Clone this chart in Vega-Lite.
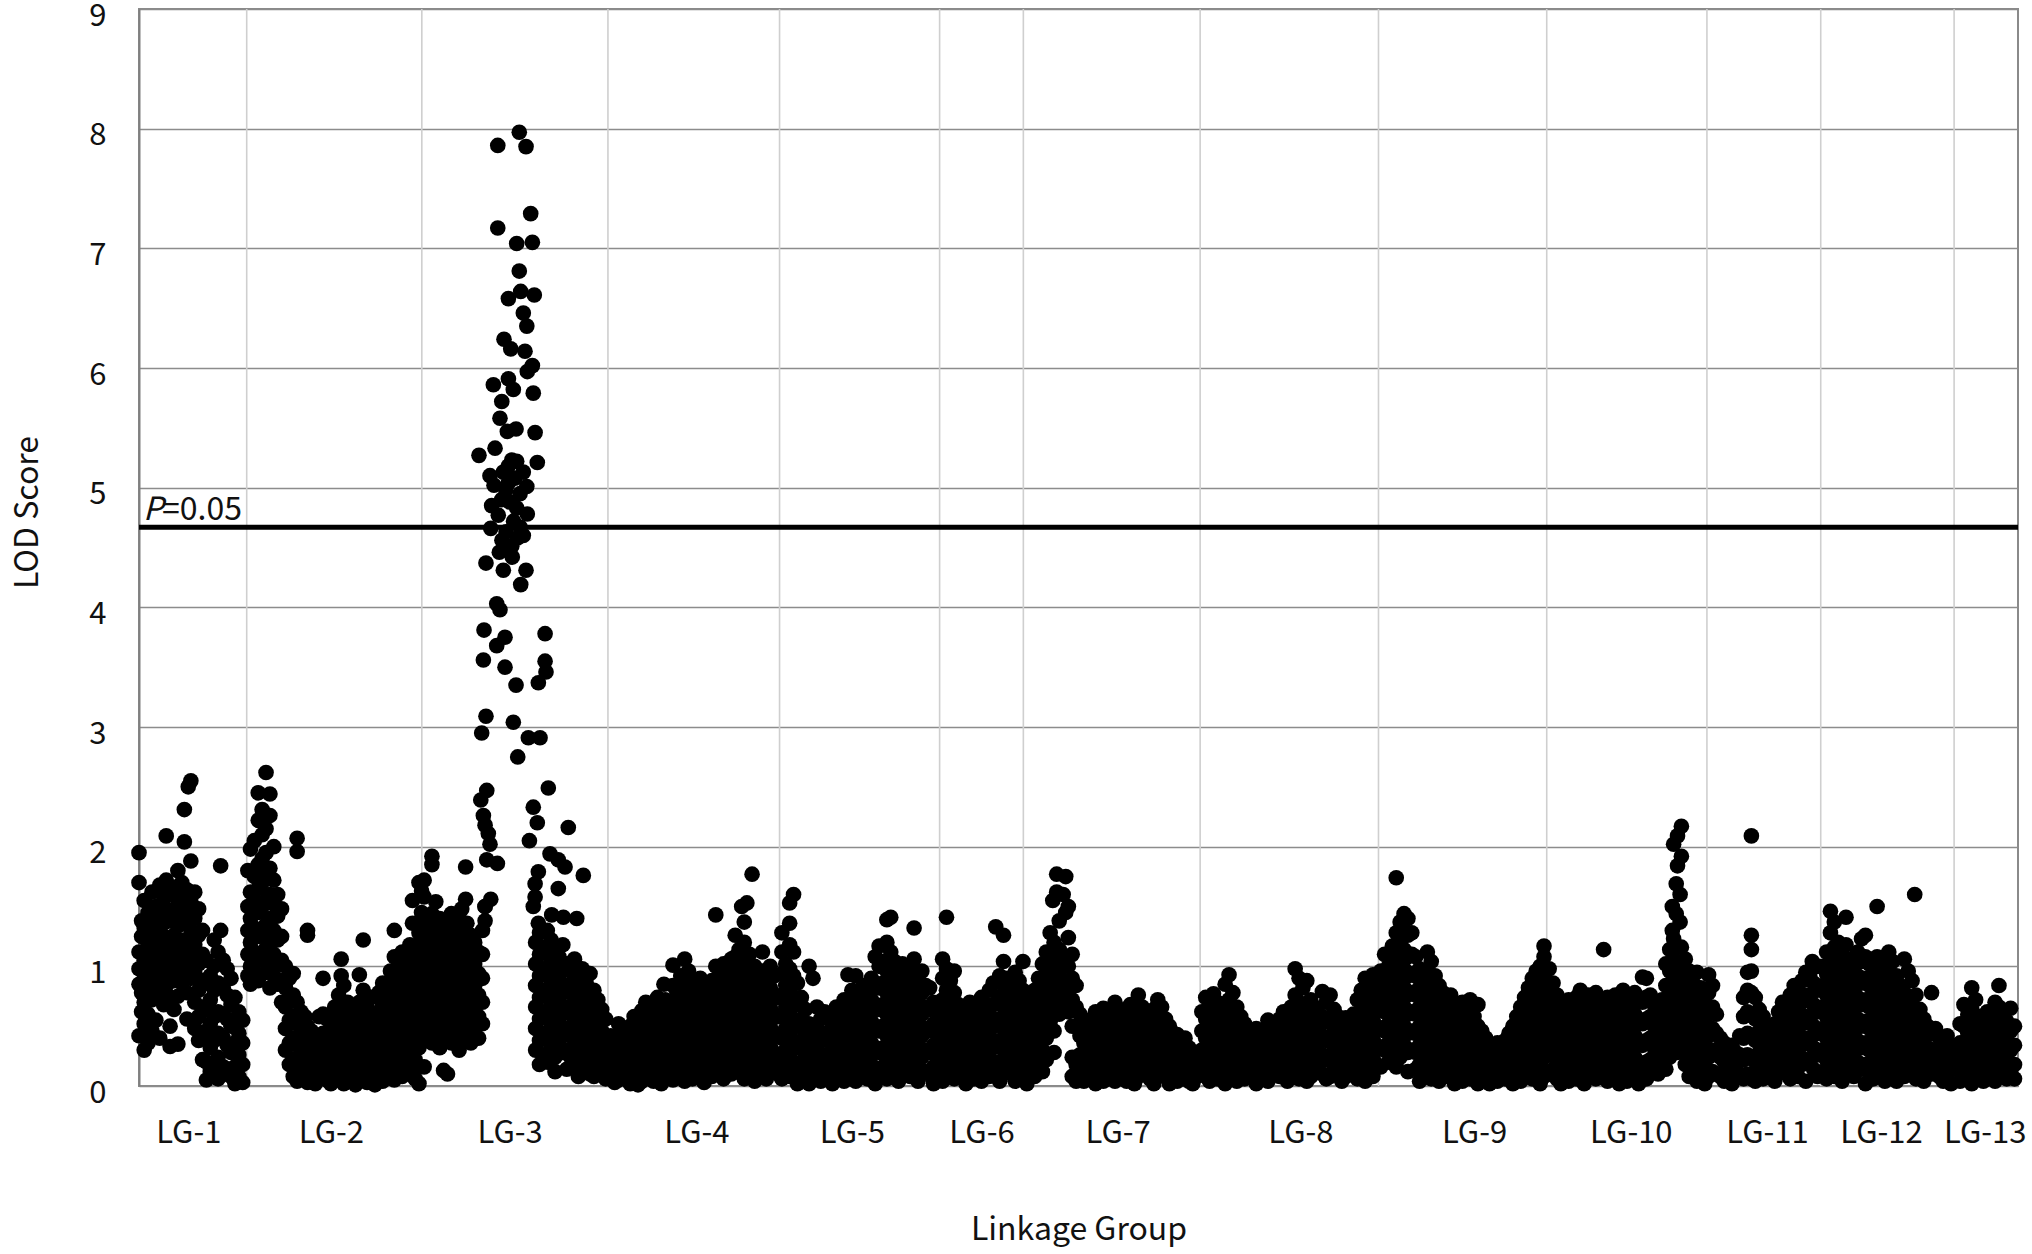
{
"$schema":"https://vega.github.io/schema/vega-lite/v6.json",
"width":1879,"height":1077,
"autosize":{"type":"none"},
"padding":{"left":139,"top":9,"right":14,"bottom":168},
"background":"white",
"config":{"view":{"stroke":"#8a8a8a","strokeWidth":2},"font":"Noto Sans CJK JP"},
"datasets":{
"groups":[{"LG":"LG-1","start":0},{"LG":"LG-2","start":83.1},{"LG":"LG-3","start":218.2},{"LG":"LG-4","start":361.8},{"LG":"LG-5","start":494.2},{"LG":"LG-6","start":617.7},{"LG":"LG-7","start":682.3},{"LG":"LG-8","start":818.7},{"LG":"LG-9","start":956.3},{"LG":"LG-10","start":1086.1},{"LG":"LG-11","start":1209.7},{"LG":"LG-12","start":1297.5},{"LG":"LG-13","start":1400.4}],
"threshold":[{"cM":0,"LOD":4.67,"p":"P","rest":"=0.05"}],
"markers":[
{"cM":0,"LOD":1.95},{"cM":0,"LOD":1.70},{"cM":0,"LOD":1.12},{"cM":0,"LOD":0.98},{"cM":0,"LOD":0.85},{"cM":0,"LOD":0.42},
{"cM":2,"LOD":1.38},{"cM":2,"LOD":1.25},{"cM":2,"LOD":0.78},{"cM":2,"LOD":0.62},
{"cM":4,"LOD":1.55},{"cM":4,"LOD":1.32},{"cM":4,"LOD":1.05},{"cM":4,"LOD":0.90},{"cM":4,"LOD":0.70},{"cM":4,"LOD":0.52},{"cM":4,"LOD":0.30},
{"cM":7,"LOD":1.45},{"cM":7,"LOD":1.18},{"cM":7,"LOD":0.95},{"cM":7,"LOD":0.80},{"cM":7,"LOD":0.60},{"cM":7,"LOD":0.36},
{"cM":10,"LOD":1.62},{"cM":10,"LOD":1.40},{"cM":10,"LOD":1.28},{"cM":10,"LOD":1.08},{"cM":10,"LOD":0.88},{"cM":10,"LOD":0.72},{"cM":10,"LOD":0.46},
{"cM":13,"LOD":1.50},{"cM":13,"LOD":1.22},{"cM":13,"LOD":1.00},{"cM":13,"LOD":0.82},{"cM":13,"LOD":0.55},
{"cM":16,"LOD":1.68},{"cM":16,"LOD":1.45},{"cM":16,"LOD":1.30},{"cM":16,"LOD":1.15},{"cM":16,"LOD":0.95},{"cM":16,"LOD":0.76},{"cM":16,"LOD":0.40},
{"cM":19,"LOD":1.58},{"cM":19,"LOD":1.36},{"cM":19,"LOD":1.10},{"cM":19,"LOD":0.92},{"cM":19,"LOD":0.68},
{"cM":21,"LOD":2.09},{"cM":21,"LOD":1.72},{"cM":21,"LOD":1.48},{"cM":21,"LOD":1.24},{"cM":21,"LOD":1.02},{"cM":21,"LOD":0.84},
{"cM":24,"LOD":1.60},{"cM":24,"LOD":1.38},{"cM":24,"LOD":1.18},{"cM":24,"LOD":0.98},{"cM":24,"LOD":0.74},{"cM":24,"LOD":0.50},{"cM":24,"LOD":0.33},
{"cM":27,"LOD":1.66},{"cM":27,"LOD":1.42},{"cM":27,"LOD":1.26},{"cM":27,"LOD":1.06},{"cM":27,"LOD":0.88},{"cM":27,"LOD":0.64},
{"cM":30,"LOD":1.80},{"cM":30,"LOD":1.52},{"cM":30,"LOD":1.34},{"cM":30,"LOD":1.12},{"cM":30,"LOD":0.94},{"cM":30,"LOD":0.75},{"cM":30,"LOD":0.35},
{"cM":33,"LOD":1.70},{"cM":33,"LOD":1.46},{"cM":33,"LOD":1.22},{"cM":33,"LOD":1.04},{"cM":33,"LOD":0.86},
{"cM":35,"LOD":2.31},{"cM":35,"LOD":2.04},{"cM":35,"LOD":1.58},{"cM":35,"LOD":1.36},{"cM":35,"LOD":1.16},{"cM":35,"LOD":0.96},
{"cM":37,"LOD":1.64},{"cM":37,"LOD":1.44},{"cM":37,"LOD":1.20},{"cM":37,"LOD":0.98},{"cM":37,"LOD":0.78},{"cM":37,"LOD":0.56},
{"cM":38,"LOD":2.50},
{"cM":40,"LOD":2.55},{"cM":40,"LOD":1.88},{"cM":40,"LOD":1.54},{"cM":40,"LOD":1.30},{"cM":40,"LOD":1.08},{"cM":40,"LOD":0.90},
{"cM":43,"LOD":1.62},{"cM":43,"LOD":1.40},{"cM":43,"LOD":1.18},{"cM":43,"LOD":0.94},{"cM":43,"LOD":0.70},{"cM":43,"LOD":0.48},
{"cM":46,"LOD":1.48},{"cM":46,"LOD":1.26},{"cM":46,"LOD":1.02},{"cM":46,"LOD":0.80},{"cM":46,"LOD":0.58},{"cM":46,"LOD":0.38},
{"cM":49,"LOD":1.30},{"cM":49,"LOD":1.10},{"cM":49,"LOD":0.88},{"cM":49,"LOD":0.66},{"cM":49,"LOD":0.45},{"cM":49,"LOD":0.22},
{"cM":52,"LOD":1.05},{"cM":52,"LOD":0.86},{"cM":52,"LOD":0.64},{"cM":52,"LOD":0.42},{"cM":52,"LOD":0.20},{"cM":52,"LOD":0.05},
{"cM":55,"LOD":0.92},{"cM":55,"LOD":0.72},{"cM":55,"LOD":0.52},{"cM":55,"LOD":0.32},{"cM":55,"LOD":0.12},
{"cM":58,"LOD":1.22},{"cM":58,"LOD":1.00},{"cM":58,"LOD":0.80},{"cM":58,"LOD":0.58},{"cM":58,"LOD":0.38},{"cM":58,"LOD":0.18},
{"cM":61,"LOD":1.12},{"cM":61,"LOD":0.86},{"cM":61,"LOD":0.62},{"cM":61,"LOD":0.44},{"cM":61,"LOD":0.24},{"cM":61,"LOD":0.06},
{"cM":63,"LOD":1.84},{"cM":63,"LOD":1.30},
{"cM":65,"LOD":1.05},{"cM":65,"LOD":0.82},{"cM":65,"LOD":0.60},{"cM":65,"LOD":0.40},{"cM":65,"LOD":0.16},
{"cM":68,"LOD":0.98},{"cM":68,"LOD":0.76},{"cM":68,"LOD":0.56},{"cM":68,"LOD":0.34},{"cM":68,"LOD":0.10},
{"cM":71,"LOD":0.90},{"cM":71,"LOD":0.68},{"cM":71,"LOD":0.50},{"cM":71,"LOD":0.28},{"cM":71,"LOD":0.08},
{"cM":74,"LOD":0.74},{"cM":74,"LOD":0.54},{"cM":74,"LOD":0.36},{"cM":74,"LOD":0.16},{"cM":74,"LOD":0.02},
{"cM":77,"LOD":0.62},{"cM":77,"LOD":0.44},{"cM":77,"LOD":0.26},{"cM":77,"LOD":0.08},
{"cM":80,"LOD":0.55},{"cM":80,"LOD":0.36},{"cM":80,"LOD":0.18},{"cM":80,"LOD":0.03},
{"cM":84,"LOD":1.80},{"cM":84,"LOD":1.50},{"cM":84,"LOD":1.30},{"cM":84,"LOD":1.10},{"cM":84,"LOD":0.92},
{"cM":86,"LOD":1.98},{"cM":86,"LOD":1.62},{"cM":86,"LOD":1.40},{"cM":86,"LOD":1.20},{"cM":86,"LOD":1.00},{"cM":86,"LOD":0.85},
{"cM":89,"LOD":2.05},{"cM":89,"LOD":1.75},{"cM":89,"LOD":1.55},{"cM":89,"LOD":1.32},{"cM":89,"LOD":1.12},{"cM":89,"LOD":0.95},
{"cM":92,"LOD":2.45},{"cM":92,"LOD":2.22},{"cM":92,"LOD":1.85},{"cM":92,"LOD":1.65},{"cM":92,"LOD":1.45},{"cM":92,"LOD":1.25},{"cM":92,"LOD":1.05},{"cM":92,"LOD":0.88},
{"cM":95,"LOD":2.31},{"cM":95,"LOD":2.10},{"cM":95,"LOD":1.90},{"cM":95,"LOD":1.70},{"cM":95,"LOD":1.50},{"cM":95,"LOD":1.28},{"cM":95,"LOD":1.08},
{"cM":98,"LOD":2.62},{"cM":98,"LOD":2.15},{"cM":98,"LOD":1.95},{"cM":98,"LOD":1.76},{"cM":98,"LOD":1.55},{"cM":98,"LOD":1.35},{"cM":98,"LOD":1.15},{"cM":98,"LOD":0.95},
{"cM":101,"LOD":2.44},{"cM":101,"LOD":2.26},{"cM":101,"LOD":1.82},{"cM":101,"LOD":1.60},{"cM":101,"LOD":1.40},{"cM":101,"LOD":1.20},{"cM":101,"LOD":1.00},{"cM":101,"LOD":0.82},
{"cM":104,"LOD":2.00},{"cM":104,"LOD":1.72},{"cM":104,"LOD":1.52},{"cM":104,"LOD":1.30},{"cM":104,"LOD":1.10},{"cM":104,"LOD":0.92},
{"cM":107,"LOD":1.60},{"cM":107,"LOD":1.42},{"cM":107,"LOD":1.22},{"cM":107,"LOD":1.02},{"cM":107,"LOD":0.85},
{"cM":110,"LOD":1.48},{"cM":110,"LOD":1.25},{"cM":110,"LOD":1.05},{"cM":110,"LOD":0.88},{"cM":110,"LOD":0.70},
{"cM":113,"LOD":1.00},{"cM":113,"LOD":0.82},{"cM":113,"LOD":0.66},{"cM":113,"LOD":0.48},{"cM":113,"LOD":0.30},
{"cM":116,"LOD":0.90},{"cM":116,"LOD":0.72},{"cM":116,"LOD":0.55},{"cM":116,"LOD":0.36},{"cM":116,"LOD":0.18},
{"cM":119,"LOD":0.94},{"cM":119,"LOD":0.76},{"cM":119,"LOD":0.58},{"cM":119,"LOD":0.40},{"cM":119,"LOD":0.22},{"cM":119,"LOD":0.08},
{"cM":122,"LOD":2.07},{"cM":122,"LOD":1.96},{"cM":122,"LOD":0.70},{"cM":122,"LOD":0.52},{"cM":122,"LOD":0.34},{"cM":122,"LOD":0.16},{"cM":122,"LOD":0.04},
{"cM":125,"LOD":0.62},{"cM":125,"LOD":0.46},{"cM":125,"LOD":0.30},{"cM":125,"LOD":0.14},
{"cM":128,"LOD":0.58},{"cM":128,"LOD":0.40},{"cM":128,"LOD":0.24},{"cM":128,"LOD":0.08},
{"cM":130,"LOD":1.30},{"cM":130,"LOD":1.26},{"cM":130,"LOD":0.50},{"cM":130,"LOD":0.34},{"cM":130,"LOD":0.18},{"cM":130,"LOD":0.03},
{"cM":133,"LOD":0.46},{"cM":133,"LOD":0.30},{"cM":133,"LOD":0.14},
{"cM":136,"LOD":0.40},{"cM":136,"LOD":0.26},{"cM":136,"LOD":0.10},{"cM":136,"LOD":0.02},
{"cM":139,"LOD":0.58},{"cM":139,"LOD":0.36},{"cM":139,"LOD":0.20},{"cM":139,"LOD":0.06},
{"cM":142,"LOD":0.90},{"cM":142,"LOD":0.60},{"cM":142,"LOD":0.44},{"cM":142,"LOD":0.28},{"cM":142,"LOD":0.12},
{"cM":145,"LOD":0.56},{"cM":145,"LOD":0.38},{"cM":145,"LOD":0.22},{"cM":145,"LOD":0.05},
{"cM":148,"LOD":0.48},{"cM":148,"LOD":0.32},{"cM":148,"LOD":0.16},{"cM":148,"LOD":0.02},
{"cM":151,"LOD":0.66},{"cM":151,"LOD":0.50},{"cM":151,"LOD":0.34},{"cM":151,"LOD":0.18},{"cM":151,"LOD":0.06},
{"cM":154,"LOD":0.76},{"cM":154,"LOD":0.58},{"cM":154,"LOD":0.40},{"cM":154,"LOD":0.24},{"cM":154,"LOD":0.08},
{"cM":156,"LOD":1.06},{"cM":156,"LOD":0.92},
{"cM":158,"LOD":0.84},{"cM":158,"LOD":0.66},{"cM":158,"LOD":0.48},{"cM":158,"LOD":0.30},{"cM":158,"LOD":0.14},{"cM":158,"LOD":0.02},
{"cM":161,"LOD":0.70},{"cM":161,"LOD":0.52},{"cM":161,"LOD":0.36},{"cM":161,"LOD":0.20},{"cM":161,"LOD":0.06},
{"cM":164,"LOD":0.62},{"cM":164,"LOD":0.44},{"cM":164,"LOD":0.28},{"cM":164,"LOD":0.12},
{"cM":167,"LOD":0.55},{"cM":167,"LOD":0.40},{"cM":167,"LOD":0.24},{"cM":167,"LOD":0.08},{"cM":167,"LOD":0.01},
{"cM":170,"LOD":0.93},{"cM":170,"LOD":0.70},{"cM":170,"LOD":0.52},{"cM":170,"LOD":0.34},{"cM":170,"LOD":0.18},{"cM":170,"LOD":0.04},
{"cM":173,"LOD":1.22},{"cM":173,"LOD":0.80},{"cM":173,"LOD":0.60},{"cM":173,"LOD":0.42},{"cM":173,"LOD":0.26},{"cM":173,"LOD":0.10},
{"cM":176,"LOD":0.66},{"cM":176,"LOD":0.48},{"cM":176,"LOD":0.32},{"cM":176,"LOD":0.16},{"cM":176,"LOD":0.03},
{"cM":179,"LOD":0.74},{"cM":179,"LOD":0.56},{"cM":179,"LOD":0.38},{"cM":179,"LOD":0.22},{"cM":179,"LOD":0.06},
{"cM":182,"LOD":0.60},{"cM":182,"LOD":0.44},{"cM":182,"LOD":0.28},{"cM":182,"LOD":0.12},{"cM":182,"LOD":0.01},
{"cM":185,"LOD":0.78},{"cM":185,"LOD":0.62},{"cM":185,"LOD":0.46},{"cM":185,"LOD":0.30},{"cM":185,"LOD":0.14},
{"cM":188,"LOD":0.86},{"cM":188,"LOD":0.68},{"cM":188,"LOD":0.50},{"cM":188,"LOD":0.34},{"cM":188,"LOD":0.18},{"cM":188,"LOD":0.04},
{"cM":191,"LOD":0.72},{"cM":191,"LOD":0.54},{"cM":191,"LOD":0.38},{"cM":191,"LOD":0.22},{"cM":191,"LOD":0.08},
{"cM":194,"LOD":0.96},{"cM":194,"LOD":0.80},{"cM":194,"LOD":0.62},{"cM":194,"LOD":0.44},{"cM":194,"LOD":0.28},{"cM":194,"LOD":0.12},
{"cM":197,"LOD":1.30},{"cM":197,"LOD":1.08},{"cM":197,"LOD":0.88},{"cM":197,"LOD":0.70},{"cM":197,"LOD":0.52},{"cM":197,"LOD":0.36},{"cM":197,"LOD":0.20},{"cM":197,"LOD":0.05},
{"cM":200,"LOD":1.00},{"cM":200,"LOD":0.82},{"cM":200,"LOD":0.64},{"cM":200,"LOD":0.46},{"cM":200,"LOD":0.30},{"cM":200,"LOD":0.14},
{"cM":203,"LOD":1.12},{"cM":203,"LOD":0.94},{"cM":203,"LOD":0.76},{"cM":203,"LOD":0.58},{"cM":203,"LOD":0.40},{"cM":203,"LOD":0.24},{"cM":203,"LOD":0.08},
{"cM":206,"LOD":1.06},{"cM":206,"LOD":0.88},{"cM":206,"LOD":0.70},{"cM":206,"LOD":0.52},{"cM":206,"LOD":0.36},{"cM":206,"LOD":0.18},
{"cM":209,"LOD":1.18},{"cM":209,"LOD":1.00},{"cM":209,"LOD":0.82},{"cM":209,"LOD":0.64},{"cM":209,"LOD":0.46},{"cM":209,"LOD":0.30},{"cM":209,"LOD":0.12},
{"cM":211,"LOD":1.55},{"cM":211,"LOD":1.36},
{"cM":213,"LOD":1.10},{"cM":213,"LOD":0.92},{"cM":213,"LOD":0.74},{"cM":213,"LOD":0.56},{"cM":213,"LOD":0.40},{"cM":213,"LOD":0.22},{"cM":213,"LOD":0.06},
{"cM":216,"LOD":1.70},{"cM":216,"LOD":1.28},{"cM":216,"LOD":1.04},{"cM":216,"LOD":0.86},{"cM":216,"LOD":0.68},{"cM":216,"LOD":0.50},{"cM":216,"LOD":0.32},{"cM":216,"LOD":0.16},{"cM":216,"LOD":0.02},
{"cM":218,"LOD":1.63},{"cM":218,"LOD":1.45},{"cM":218,"LOD":1.20},{"cM":218,"LOD":0.96},{"cM":218,"LOD":0.78},{"cM":218,"LOD":0.60},
{"cM":220,"LOD":1.72},{"cM":220,"LOD":1.58},{"cM":220,"LOD":1.38},{"cM":220,"LOD":1.20},{"cM":220,"LOD":1.02},{"cM":220,"LOD":0.84},{"cM":220,"LOD":0.66},{"cM":220,"LOD":0.48},{"cM":220,"LOD":0.16},
{"cM":223,"LOD":1.30},{"cM":223,"LOD":1.12},{"cM":223,"LOD":0.94},{"cM":223,"LOD":0.76},{"cM":223,"LOD":0.58},{"cM":223,"LOD":0.40},
{"cM":226,"LOD":1.92},{"cM":226,"LOD":1.85},{"cM":226,"LOD":1.44},{"cM":226,"LOD":1.26},{"cM":226,"LOD":1.08},{"cM":226,"LOD":0.90},{"cM":226,"LOD":0.72},{"cM":226,"LOD":0.54},{"cM":226,"LOD":0.36},
{"cM":229,"LOD":1.54},{"cM":229,"LOD":1.34},{"cM":229,"LOD":1.16},{"cM":229,"LOD":0.98},{"cM":229,"LOD":0.80},{"cM":229,"LOD":0.62},{"cM":229,"LOD":0.44},
{"cM":232,"LOD":1.40},{"cM":232,"LOD":1.22},{"cM":232,"LOD":1.04},{"cM":232,"LOD":0.86},{"cM":232,"LOD":0.68},{"cM":232,"LOD":0.50},{"cM":232,"LOD":0.32},
{"cM":235,"LOD":1.28},{"cM":235,"LOD":1.10},{"cM":235,"LOD":0.92},{"cM":235,"LOD":0.74},{"cM":235,"LOD":0.56},{"cM":235,"LOD":0.38},{"cM":235,"LOD":0.13},
{"cM":238,"LOD":1.36},{"cM":238,"LOD":1.18},{"cM":238,"LOD":1.00},{"cM":238,"LOD":0.82},{"cM":238,"LOD":0.64},{"cM":238,"LOD":0.46},{"cM":238,"LOD":0.10},
{"cM":241,"LOD":1.44},{"cM":241,"LOD":1.26},{"cM":241,"LOD":1.08},{"cM":241,"LOD":0.90},{"cM":241,"LOD":0.72},{"cM":241,"LOD":0.54},{"cM":241,"LOD":0.36},
{"cM":244,"LOD":1.32},{"cM":244,"LOD":1.14},{"cM":244,"LOD":0.96},{"cM":244,"LOD":0.78},{"cM":244,"LOD":0.60},{"cM":244,"LOD":0.42},
{"cM":247,"LOD":1.40},{"cM":247,"LOD":1.22},{"cM":247,"LOD":1.04},{"cM":247,"LOD":0.86},{"cM":247,"LOD":0.68},{"cM":247,"LOD":0.50},{"cM":247,"LOD":0.30},
{"cM":249,"LOD":1.48},
{"cM":250,"LOD":1.30},{"cM":250,"LOD":1.12},{"cM":250,"LOD":0.94},{"cM":250,"LOD":0.76},{"cM":250,"LOD":0.58},{"cM":250,"LOD":0.40},
{"cM":252,"LOD":1.83},{"cM":252,"LOD":1.56},
{"cM":253,"LOD":1.36},{"cM":253,"LOD":1.18},{"cM":253,"LOD":1.00},{"cM":253,"LOD":0.82},{"cM":253,"LOD":0.64},{"cM":253,"LOD":0.46},
{"cM":256,"LOD":1.26},{"cM":256,"LOD":1.08},{"cM":256,"LOD":0.90},{"cM":256,"LOD":0.72},{"cM":256,"LOD":0.54},{"cM":256,"LOD":0.36},
{"cM":259,"LOD":1.20},{"cM":259,"LOD":1.02},{"cM":259,"LOD":0.84},{"cM":259,"LOD":0.66},{"cM":259,"LOD":0.48},
{"cM":262,"LOD":1.12},{"cM":262,"LOD":0.94},{"cM":262,"LOD":0.76},{"cM":262,"LOD":0.58},{"cM":262,"LOD":0.40},
{"cM":265,"LOD":1.30},{"cM":265,"LOD":1.10},{"cM":265,"LOD":0.90},{"cM":265,"LOD":0.70},{"cM":265,"LOD":0.52},
{"cM":267,"LOD":1.50},{"cM":267,"LOD":1.38},
{"cM":293.4,"LOD":7.97},{"cM":276.8,"LOD":7.86},{"cM":298.6,"LOD":7.85},{"cM":302.2,"LOD":7.29},{"cM":276.8,"LOD":7.17},{"cM":291.4,"LOD":7.04},{"cM":303.5,"LOD":7.05},{"cM":293.4,"LOD":6.81},{"cM":285,"LOD":6.58},{"cM":294.5,"LOD":6.64},{"cM":305,"LOD":6.61},{"cM":296.5,"LOD":6.46},{"cM":299.2,"LOD":6.35},{"cM":281.6,"LOD":6.24},{"cM":286.8,"LOD":6.16},{"cM":297.8,"LOD":6.14},{"cM":303.5,"LOD":6.02},{"cM":299.6,"LOD":5.97},{"cM":273.4,"LOD":5.86},{"cM":285,"LOD":5.91},{"cM":288.8,"LOD":5.82},{"cM":304.2,"LOD":5.79},{"cM":279.9,"LOD":5.72},{"cM":278.5,"LOD":5.58},{"cM":284.2,"LOD":5.47},{"cM":290.9,"LOD":5.49},{"cM":305.6,"LOD":5.46},{"cM":262.3,"LOD":5.27},{"cM":274.7,"LOD":5.33},{"cM":287.6,"LOD":5.23},{"cM":291.4,"LOD":5.22},{"cM":307.3,"LOD":5.21},{"cM":270.8,"LOD":5.10},{"cM":281.1,"LOD":5.13},{"cM":296.5,"LOD":5.13},{"cM":273.9,"LOD":5.02},{"cM":285,"LOD":5.04},{"cM":299.2,"LOD":5.01},{"cM":294,"LOD":4.95},{"cM":272.1,"LOD":4.85},{"cM":279.9,"LOD":4.90},{"cM":291.4,"LOD":4.83},{"cM":299.6,"LOD":4.78},{"cM":277.2,"LOD":4.77},{"cM":271.4,"LOD":4.66},{"cM":283.2,"LOD":4.63},{"cM":294,"LOD":4.67},{"cM":296.5,"LOD":4.60},{"cM":287.6,"LOD":4.51},{"cM":286,"LOD":4.88},{"cM":289,"LOD":4.72},{"cM":283,"LOD":4.98},{"cM":292,"LOD":4.58},{"cM":288,"LOD":4.42},{"cM":278,"LOD":4.46},{"cM":290,"LOD":5.08},{"cM":285,"LOD":5.18},{"cM":280,"LOD":4.56},
{"cM":267.7,"LOD":4.37},{"cM":281.1,"LOD":4.31},{"cM":298.6,"LOD":4.31},{"cM":294.5,"LOD":4.19},{"cM":276,"LOD":4.03},{"cM":278.5,"LOD":3.98},{"cM":266.2,"LOD":3.81},{"cM":282.4,"LOD":3.75},{"cM":313.3,"LOD":3.78},{"cM":276,"LOD":3.68},{"cM":265.7,"LOD":3.56},{"cM":282.4,"LOD":3.50},{"cM":313.3,"LOD":3.55},{"cM":314,"LOD":3.46},{"cM":308.1,"LOD":3.37},{"cM":290.9,"LOD":3.35},{"cM":267.7,"LOD":3.09},{"cM":264.4,"LOD":2.95},{"cM":288.8,"LOD":3.04},{"cM":300.4,"LOD":2.91},{"cM":309.4,"LOD":2.91},{"cM":292.2,"LOD":2.75},{"cM":315.8,"LOD":2.49},{"cM":268.3,"LOD":2.47},{"cM":263.7,"LOD":2.39},{"cM":304.2,"LOD":2.33},{"cM":265.7,"LOD":2.26},{"cM":307.3,"LOD":2.20},{"cM":331.2,"LOD":2.16},{"cM":267,"LOD":2.18},{"cM":269.5,"LOD":2.11},{"cM":301.2,"LOD":2.05},{"cM":270.8,"LOD":2.02},{"cM":317.1,"LOD":1.94},{"cM":268.3,"LOD":1.89},{"cM":276.5,"LOD":1.86},{"cM":323.5,"LOD":1.89},{"cM":328.7,"LOD":1.83},{"cM":342.8,"LOD":1.76},{"cM":308.1,"LOD":1.79},{"cM":305.6,"LOD":1.69},{"cM":323.5,"LOD":1.65},{"cM":305.6,"LOD":1.58},{"cM":304.2,"LOD":1.50},{"cM":308.1,"LOD":1.36},{"cM":318.4,"LOD":1.43},{"cM":327.4,"LOD":1.41},{"cM":337.7,"LOD":1.40},{"cM":271.4,"LOD":1.56},{"cM":267,"LOD":1.50},
{"cM":306,"LOD":1.20},{"cM":306,"LOD":1.02},{"cM":306,"LOD":0.84},{"cM":306,"LOD":0.66},{"cM":306,"LOD":0.48},{"cM":306,"LOD":0.30},
{"cM":309,"LOD":1.28},{"cM":309,"LOD":1.10},{"cM":309,"LOD":0.92},{"cM":309,"LOD":0.74},{"cM":309,"LOD":0.56},{"cM":309,"LOD":0.38},{"cM":309,"LOD":0.18},
{"cM":312,"LOD":1.16},{"cM":312,"LOD":0.98},{"cM":312,"LOD":0.80},{"cM":312,"LOD":0.62},{"cM":312,"LOD":0.44},{"cM":312,"LOD":0.26},
{"cM":315,"LOD":1.30},{"cM":315,"LOD":1.12},{"cM":315,"LOD":0.94},{"cM":315,"LOD":0.76},{"cM":315,"LOD":0.58},{"cM":315,"LOD":0.40},{"cM":315,"LOD":0.20},
{"cM":318,"LOD":1.22},{"cM":318,"LOD":1.04},{"cM":318,"LOD":0.86},{"cM":318,"LOD":0.68},{"cM":318,"LOD":0.50},{"cM":318,"LOD":0.32},
{"cM":321,"LOD":1.14},{"cM":321,"LOD":0.96},{"cM":321,"LOD":0.78},{"cM":321,"LOD":0.60},{"cM":321,"LOD":0.42},{"cM":321,"LOD":0.24},{"cM":321,"LOD":0.12},
{"cM":324,"LOD":1.08},{"cM":324,"LOD":0.90},{"cM":324,"LOD":0.72},{"cM":324,"LOD":0.54},{"cM":324,"LOD":0.36},
{"cM":327,"LOD":1.18},{"cM":327,"LOD":1.00},{"cM":327,"LOD":0.82},{"cM":327,"LOD":0.64},{"cM":327,"LOD":0.46},{"cM":327,"LOD":0.28},
{"cM":330,"LOD":1.02},{"cM":330,"LOD":0.84},{"cM":330,"LOD":0.66},{"cM":330,"LOD":0.48},{"cM":330,"LOD":0.30},{"cM":330,"LOD":0.14},
{"cM":333,"LOD":0.96},{"cM":333,"LOD":0.78},{"cM":333,"LOD":0.60},{"cM":333,"LOD":0.42},{"cM":333,"LOD":0.24},
{"cM":336,"LOD":1.06},{"cM":336,"LOD":0.88},{"cM":336,"LOD":0.70},{"cM":336,"LOD":0.52},{"cM":336,"LOD":0.34},{"cM":336,"LOD":0.16},
{"cM":339,"LOD":0.92},{"cM":339,"LOD":0.74},{"cM":339,"LOD":0.56},{"cM":339,"LOD":0.38},{"cM":339,"LOD":0.20},{"cM":339,"LOD":0.08},
{"cM":342,"LOD":0.98},{"cM":342,"LOD":0.80},{"cM":342,"LOD":0.62},{"cM":342,"LOD":0.44},{"cM":342,"LOD":0.26},
{"cM":345,"LOD":0.86},{"cM":345,"LOD":0.68},{"cM":345,"LOD":0.50},{"cM":345,"LOD":0.32},{"cM":345,"LOD":0.14},
{"cM":348,"LOD":0.94},{"cM":348,"LOD":0.76},{"cM":348,"LOD":0.58},{"cM":348,"LOD":0.40},{"cM":348,"LOD":0.22},{"cM":348,"LOD":0.10},
{"cM":351,"LOD":0.80},{"cM":351,"LOD":0.62},{"cM":351,"LOD":0.44},{"cM":351,"LOD":0.26},{"cM":351,"LOD":0.08},
{"cM":354,"LOD":0.72},{"cM":354,"LOD":0.54},{"cM":354,"LOD":0.36},{"cM":354,"LOD":0.18},
{"cM":357,"LOD":0.64},{"cM":357,"LOD":0.46},{"cM":357,"LOD":0.28},{"cM":357,"LOD":0.10},
{"cM":360,"LOD":0.56},{"cM":360,"LOD":0.38},{"cM":360,"LOD":0.20},{"cM":360,"LOD":0.06},
{"cM":364,"LOD":0.42},{"cM":364,"LOD":0.26},{"cM":364,"LOD":0.10},
{"cM":367,"LOD":0.34},{"cM":367,"LOD":0.18},{"cM":367,"LOD":0.03},
{"cM":370,"LOD":0.52},{"cM":370,"LOD":0.36},{"cM":370,"LOD":0.20},{"cM":370,"LOD":0.05},
{"cM":373,"LOD":0.44},{"cM":373,"LOD":0.28},{"cM":373,"LOD":0.12},
{"cM":376,"LOD":0.38},{"cM":376,"LOD":0.22},{"cM":376,"LOD":0.06},
{"cM":379,"LOD":0.50},{"cM":379,"LOD":0.34},{"cM":379,"LOD":0.18},{"cM":379,"LOD":0.02},
{"cM":382,"LOD":0.58},{"cM":382,"LOD":0.42},{"cM":382,"LOD":0.26},{"cM":382,"LOD":0.10},
{"cM":385,"LOD":0.46},{"cM":385,"LOD":0.30},{"cM":385,"LOD":0.14},{"cM":385,"LOD":0.01},
{"cM":388,"LOD":0.63},{"cM":388,"LOD":0.48},{"cM":388,"LOD":0.32},{"cM":388,"LOD":0.16},{"cM":388,"LOD":0.04},
{"cM":391,"LOD":0.70},{"cM":391,"LOD":0.54},{"cM":391,"LOD":0.38},{"cM":391,"LOD":0.22},{"cM":391,"LOD":0.08},
{"cM":394,"LOD":0.60},{"cM":394,"LOD":0.44},{"cM":394,"LOD":0.28},{"cM":394,"LOD":0.12},
{"cM":396,"LOD":0.68},
{"cM":397,"LOD":0.52},{"cM":397,"LOD":0.36},{"cM":397,"LOD":0.20},{"cM":397,"LOD":0.04},
{"cM":400,"LOD":0.74},{"cM":400,"LOD":0.58},{"cM":400,"LOD":0.42},{"cM":400,"LOD":0.26},{"cM":400,"LOD":0.10},
{"cM":403,"LOD":0.66},{"cM":403,"LOD":0.50},{"cM":403,"LOD":0.34},{"cM":403,"LOD":0.18},{"cM":403,"LOD":0.02},
{"cM":405,"LOD":0.85},
{"cM":406,"LOD":0.72},{"cM":406,"LOD":0.56},{"cM":406,"LOD":0.40},{"cM":406,"LOD":0.24},{"cM":406,"LOD":0.08},
{"cM":409,"LOD":0.62},{"cM":409,"LOD":0.46},{"cM":409,"LOD":0.30},{"cM":409,"LOD":0.14},
{"cM":412,"LOD":1.01},{"cM":412,"LOD":0.84},{"cM":412,"LOD":0.68},{"cM":412,"LOD":0.52},{"cM":412,"LOD":0.36},{"cM":412,"LOD":0.20},{"cM":412,"LOD":0.05},
{"cM":415,"LOD":0.78},{"cM":415,"LOD":0.60},{"cM":415,"LOD":0.44},{"cM":415,"LOD":0.28},{"cM":415,"LOD":0.12},
{"cM":418,"LOD":0.92},{"cM":418,"LOD":0.74},{"cM":418,"LOD":0.58},{"cM":418,"LOD":0.42},{"cM":418,"LOD":0.26},{"cM":418,"LOD":0.10},
{"cM":421,"LOD":1.06},{"cM":421,"LOD":0.88},{"cM":421,"LOD":0.70},{"cM":421,"LOD":0.54},{"cM":421,"LOD":0.38},{"cM":421,"LOD":0.22},{"cM":421,"LOD":0.04},
{"cM":424,"LOD":0.96},{"cM":424,"LOD":0.80},{"cM":424,"LOD":0.64},{"cM":424,"LOD":0.48},{"cM":424,"LOD":0.32},{"cM":424,"LOD":0.16},
{"cM":427,"LOD":0.86},{"cM":427,"LOD":0.70},{"cM":427,"LOD":0.54},{"cM":427,"LOD":0.38},{"cM":427,"LOD":0.22},{"cM":427,"LOD":0.06},
{"cM":430,"LOD":0.80},{"cM":430,"LOD":0.64},{"cM":430,"LOD":0.48},{"cM":430,"LOD":0.32},{"cM":430,"LOD":0.16},
{"cM":433,"LOD":0.90},{"cM":433,"LOD":0.74},{"cM":433,"LOD":0.58},{"cM":433,"LOD":0.42},{"cM":433,"LOD":0.26},{"cM":433,"LOD":0.10},
{"cM":436,"LOD":0.84},{"cM":436,"LOD":0.68},{"cM":436,"LOD":0.52},{"cM":436,"LOD":0.36},{"cM":436,"LOD":0.20},{"cM":436,"LOD":0.03},
{"cM":439,"LOD":0.76},{"cM":439,"LOD":0.60},{"cM":439,"LOD":0.44},{"cM":439,"LOD":0.28},{"cM":439,"LOD":0.12},
{"cM":442,"LOD":0.88},{"cM":442,"LOD":0.72},{"cM":442,"LOD":0.56},{"cM":442,"LOD":0.40},{"cM":442,"LOD":0.24},{"cM":442,"LOD":0.08},
{"cM":445,"LOD":1.43},{"cM":445,"LOD":1.00},{"cM":445,"LOD":0.82},{"cM":445,"LOD":0.66},{"cM":445,"LOD":0.50},{"cM":445,"LOD":0.34},{"cM":445,"LOD":0.18},
{"cM":448,"LOD":0.92},{"cM":448,"LOD":0.76},{"cM":448,"LOD":0.60},{"cM":448,"LOD":0.44},{"cM":448,"LOD":0.28},{"cM":448,"LOD":0.12},
{"cM":451,"LOD":1.02},{"cM":451,"LOD":0.86},{"cM":451,"LOD":0.70},{"cM":451,"LOD":0.54},{"cM":451,"LOD":0.38},{"cM":451,"LOD":0.22},{"cM":451,"LOD":0.06},
{"cM":454,"LOD":0.96},{"cM":454,"LOD":0.80},{"cM":454,"LOD":0.64},{"cM":454,"LOD":0.48},{"cM":454,"LOD":0.32},{"cM":454,"LOD":0.16},
{"cM":457,"LOD":1.06},{"cM":457,"LOD":0.90},{"cM":457,"LOD":0.74},{"cM":457,"LOD":0.58},{"cM":457,"LOD":0.42},{"cM":457,"LOD":0.26},{"cM":457,"LOD":0.10},
{"cM":460,"LOD":1.26},{"cM":460,"LOD":1.08},{"cM":460,"LOD":0.92},{"cM":460,"LOD":0.76},{"cM":460,"LOD":0.60},{"cM":460,"LOD":0.44},{"cM":460,"LOD":0.28},{"cM":460,"LOD":0.12},
{"cM":463,"LOD":1.14},{"cM":463,"LOD":0.98},{"cM":463,"LOD":0.82},{"cM":463,"LOD":0.66},{"cM":463,"LOD":0.50},{"cM":463,"LOD":0.34},{"cM":463,"LOD":0.18},
{"cM":465,"LOD":1.50},
{"cM":467,"LOD":1.37},{"cM":467,"LOD":1.20},{"cM":467,"LOD":1.02},{"cM":467,"LOD":0.86},{"cM":467,"LOD":0.70},{"cM":467,"LOD":0.54},{"cM":467,"LOD":0.38},{"cM":467,"LOD":0.22},{"cM":467,"LOD":0.06},
{"cM":469,"LOD":1.53},
{"cM":471,"LOD":1.10},{"cM":471,"LOD":0.94},{"cM":471,"LOD":0.78},{"cM":471,"LOD":0.62},{"cM":471,"LOD":0.46},{"cM":471,"LOD":0.30},{"cM":471,"LOD":0.14},
{"cM":473,"LOD":1.77},
{"cM":475,"LOD":1.00},{"cM":475,"LOD":0.84},{"cM":475,"LOD":0.68},{"cM":475,"LOD":0.52},{"cM":475,"LOD":0.36},{"cM":475,"LOD":0.20},{"cM":475,"LOD":0.04},
{"cM":478,"LOD":0.90},{"cM":478,"LOD":0.74},{"cM":478,"LOD":0.58},{"cM":478,"LOD":0.42},{"cM":478,"LOD":0.26},{"cM":478,"LOD":0.10},
{"cM":481,"LOD":1.12},{"cM":481,"LOD":0.96},{"cM":481,"LOD":0.80},{"cM":481,"LOD":0.64},{"cM":481,"LOD":0.48},{"cM":481,"LOD":0.32},{"cM":481,"LOD":0.16},
{"cM":484,"LOD":0.86},{"cM":484,"LOD":0.70},{"cM":484,"LOD":0.54},{"cM":484,"LOD":0.38},{"cM":484,"LOD":0.22},{"cM":484,"LOD":0.06},
{"cM":487,"LOD":1.00},{"cM":487,"LOD":0.82},{"cM":487,"LOD":0.66},{"cM":487,"LOD":0.50},{"cM":487,"LOD":0.34},{"cM":487,"LOD":0.18},
{"cM":490,"LOD":0.92},{"cM":490,"LOD":0.76},{"cM":490,"LOD":0.60},{"cM":490,"LOD":0.44},{"cM":490,"LOD":0.28},{"cM":490,"LOD":0.12},
{"cM":493,"LOD":0.74},{"cM":493,"LOD":0.58},{"cM":493,"LOD":0.42},{"cM":493,"LOD":0.26},{"cM":493,"LOD":0.10},
{"cM":496,"LOD":1.28},{"cM":496,"LOD":1.12},{"cM":496,"LOD":0.94},{"cM":496,"LOD":0.76},{"cM":496,"LOD":0.58},{"cM":496,"LOD":0.40},{"cM":496,"LOD":0.22},{"cM":496,"LOD":0.06},
{"cM":499,"LOD":1.02},{"cM":499,"LOD":0.84},{"cM":499,"LOD":0.66},{"cM":499,"LOD":0.48},{"cM":499,"LOD":0.30},{"cM":499,"LOD":0.14},
{"cM":502,"LOD":1.53},{"cM":502,"LOD":1.36},{"cM":502,"LOD":1.18},{"cM":502,"LOD":0.98},{"cM":502,"LOD":0.80},{"cM":502,"LOD":0.62},{"cM":502,"LOD":0.44},{"cM":502,"LOD":0.26},{"cM":502,"LOD":0.08},
{"cM":505,"LOD":1.60},{"cM":505,"LOD":1.12},{"cM":505,"LOD":0.92},{"cM":505,"LOD":0.72},{"cM":505,"LOD":0.54},{"cM":505,"LOD":0.36},{"cM":505,"LOD":0.18},
{"cM":508,"LOD":0.86},{"cM":508,"LOD":0.68},{"cM":508,"LOD":0.50},{"cM":508,"LOD":0.32},{"cM":508,"LOD":0.14},{"cM":508,"LOD":0.02},
{"cM":511,"LOD":0.74},{"cM":511,"LOD":0.56},{"cM":511,"LOD":0.38},{"cM":511,"LOD":0.20},{"cM":511,"LOD":0.06},
{"cM":514,"LOD":0.64},{"cM":514,"LOD":0.46},{"cM":514,"LOD":0.28},{"cM":514,"LOD":0.10},
{"cM":517,"LOD":1.00},{"cM":517,"LOD":0.52},{"cM":517,"LOD":0.34},{"cM":517,"LOD":0.16},{"cM":517,"LOD":0.02},
{"cM":520,"LOD":0.90},{"cM":520,"LOD":0.40},{"cM":520,"LOD":0.22},{"cM":520,"LOD":0.08},
{"cM":523,"LOD":0.66},{"cM":523,"LOD":0.48},{"cM":523,"LOD":0.30},{"cM":523,"LOD":0.12},
{"cM":526,"LOD":0.56},{"cM":526,"LOD":0.38},{"cM":526,"LOD":0.20},{"cM":526,"LOD":0.04},
{"cM":529,"LOD":0.62},{"cM":529,"LOD":0.44},{"cM":529,"LOD":0.26},{"cM":529,"LOD":0.10},
{"cM":532,"LOD":0.58},{"cM":532,"LOD":0.40},{"cM":532,"LOD":0.22},{"cM":532,"LOD":0.06},
{"cM":535,"LOD":0.52},{"cM":535,"LOD":0.34},{"cM":535,"LOD":0.16},{"cM":535,"LOD":0.02},
{"cM":538,"LOD":0.66},{"cM":538,"LOD":0.48},{"cM":538,"LOD":0.30},{"cM":538,"LOD":0.14},
{"cM":541,"LOD":0.60},{"cM":541,"LOD":0.42},{"cM":541,"LOD":0.24},{"cM":541,"LOD":0.08},
{"cM":544,"LOD":0.72},{"cM":544,"LOD":0.54},{"cM":544,"LOD":0.36},{"cM":544,"LOD":0.18},{"cM":544,"LOD":0.04},
{"cM":547,"LOD":0.93},{"cM":547,"LOD":0.64},{"cM":547,"LOD":0.46},{"cM":547,"LOD":0.28},{"cM":547,"LOD":0.12},
{"cM":550,"LOD":0.80},{"cM":550,"LOD":0.62},{"cM":550,"LOD":0.44},{"cM":550,"LOD":0.26},{"cM":550,"LOD":0.10},
{"cM":553,"LOD":0.92},{"cM":553,"LOD":0.74},{"cM":553,"LOD":0.56},{"cM":553,"LOD":0.38},{"cM":553,"LOD":0.20},{"cM":553,"LOD":0.04},
{"cM":556,"LOD":0.70},{"cM":556,"LOD":0.52},{"cM":556,"LOD":0.34},{"cM":556,"LOD":0.16},
{"cM":559,"LOD":0.84},{"cM":559,"LOD":0.66},{"cM":559,"LOD":0.48},{"cM":559,"LOD":0.30},{"cM":559,"LOD":0.12},
{"cM":562,"LOD":0.76},{"cM":562,"LOD":0.58},{"cM":562,"LOD":0.40},{"cM":562,"LOD":0.22},{"cM":562,"LOD":0.06},
{"cM":565,"LOD":0.90},{"cM":565,"LOD":0.72},{"cM":565,"LOD":0.54},{"cM":565,"LOD":0.36},{"cM":565,"LOD":0.18},
{"cM":568,"LOD":1.08},{"cM":568,"LOD":0.86},{"cM":568,"LOD":0.68},{"cM":568,"LOD":0.50},{"cM":568,"LOD":0.32},{"cM":568,"LOD":0.14},{"cM":568,"LOD":0.02},
{"cM":571,"LOD":1.17},{"cM":571,"LOD":1.00},{"cM":571,"LOD":0.82},{"cM":571,"LOD":0.64},{"cM":571,"LOD":0.46},{"cM":571,"LOD":0.28},{"cM":571,"LOD":0.10},
{"cM":574,"LOD":1.04},{"cM":574,"LOD":0.86},{"cM":574,"LOD":0.68},{"cM":574,"LOD":0.50},{"cM":574,"LOD":0.32},{"cM":574,"LOD":0.16},
{"cM":577,"LOD":1.39},{"cM":577,"LOD":1.20},{"cM":577,"LOD":0.96},{"cM":577,"LOD":0.78},{"cM":577,"LOD":0.60},{"cM":577,"LOD":0.42},{"cM":577,"LOD":0.24},{"cM":577,"LOD":0.06},
{"cM":580,"LOD":1.41},{"cM":580,"LOD":1.12},{"cM":580,"LOD":0.90},{"cM":580,"LOD":0.72},{"cM":580,"LOD":0.54},{"cM":580,"LOD":0.36},{"cM":580,"LOD":0.18},
{"cM":583,"LOD":1.04},{"cM":583,"LOD":0.85},{"cM":583,"LOD":0.66},{"cM":583,"LOD":0.48},{"cM":583,"LOD":0.30},{"cM":583,"LOD":0.12},
{"cM":586,"LOD":0.94},{"cM":586,"LOD":0.76},{"cM":586,"LOD":0.58},{"cM":586,"LOD":0.40},{"cM":586,"LOD":0.22},{"cM":586,"LOD":0.04},
{"cM":589,"LOD":1.02},{"cM":589,"LOD":0.84},{"cM":589,"LOD":0.66},{"cM":589,"LOD":0.48},{"cM":589,"LOD":0.30},{"cM":589,"LOD":0.14},
{"cM":592,"LOD":0.88},{"cM":592,"LOD":0.70},{"cM":592,"LOD":0.52},{"cM":592,"LOD":0.34},{"cM":592,"LOD":0.16},
{"cM":595,"LOD":0.98},{"cM":595,"LOD":0.80},{"cM":595,"LOD":0.62},{"cM":595,"LOD":0.44},{"cM":595,"LOD":0.26},{"cM":595,"LOD":0.08},
{"cM":598,"LOD":1.32},{"cM":598,"LOD":1.06},{"cM":598,"LOD":0.86},{"cM":598,"LOD":0.68},{"cM":598,"LOD":0.50},{"cM":598,"LOD":0.32},{"cM":598,"LOD":0.14},
{"cM":601,"LOD":0.92},{"cM":601,"LOD":0.74},{"cM":601,"LOD":0.56},{"cM":601,"LOD":0.38},{"cM":601,"LOD":0.20},{"cM":601,"LOD":0.04},
{"cM":604,"LOD":0.96},{"cM":604,"LOD":0.78},{"cM":604,"LOD":0.60},{"cM":604,"LOD":0.42},{"cM":604,"LOD":0.24},{"cM":604,"LOD":0.10},
{"cM":607,"LOD":0.84},{"cM":607,"LOD":0.66},{"cM":607,"LOD":0.48},{"cM":607,"LOD":0.30},{"cM":607,"LOD":0.12},
{"cM":610,"LOD":0.82},{"cM":610,"LOD":0.64},{"cM":610,"LOD":0.46},{"cM":610,"LOD":0.28},{"cM":610,"LOD":0.10},
{"cM":613,"LOD":0.70},{"cM":613,"LOD":0.52},{"cM":613,"LOD":0.34},{"cM":613,"LOD":0.16},{"cM":613,"LOD":0.02},
{"cM":616,"LOD":0.62},{"cM":616,"LOD":0.44},{"cM":616,"LOD":0.26},{"cM":616,"LOD":0.08},
{"cM":620,"LOD":1.06},{"cM":620,"LOD":0.90},{"cM":620,"LOD":0.72},{"cM":620,"LOD":0.54},{"cM":620,"LOD":0.36},{"cM":620,"LOD":0.18},{"cM":620,"LOD":0.04},
{"cM":623,"LOD":1.41},{"cM":623,"LOD":0.98},{"cM":623,"LOD":0.80},{"cM":623,"LOD":0.62},{"cM":623,"LOD":0.44},{"cM":623,"LOD":0.26},{"cM":623,"LOD":0.10},
{"cM":626,"LOD":0.88},{"cM":626,"LOD":0.70},{"cM":626,"LOD":0.52},{"cM":626,"LOD":0.34},{"cM":626,"LOD":0.16},
{"cM":629,"LOD":0.96},{"cM":629,"LOD":0.78},{"cM":629,"LOD":0.60},{"cM":629,"LOD":0.42},{"cM":629,"LOD":0.24},{"cM":629,"LOD":0.06},
{"cM":632,"LOD":0.68},{"cM":632,"LOD":0.50},{"cM":632,"LOD":0.32},{"cM":632,"LOD":0.14},
{"cM":635,"LOD":0.62},{"cM":635,"LOD":0.44},{"cM":635,"LOD":0.26},{"cM":635,"LOD":0.08},
{"cM":638,"LOD":0.56},{"cM":638,"LOD":0.38},{"cM":638,"LOD":0.20},{"cM":638,"LOD":0.02},
{"cM":641,"LOD":0.70},{"cM":641,"LOD":0.52},{"cM":641,"LOD":0.34},{"cM":641,"LOD":0.16},
{"cM":644,"LOD":0.60},{"cM":644,"LOD":0.42},{"cM":644,"LOD":0.24},{"cM":644,"LOD":0.06},
{"cM":647,"LOD":0.66},{"cM":647,"LOD":0.48},{"cM":647,"LOD":0.30},{"cM":647,"LOD":0.12},
{"cM":650,"LOD":0.74},{"cM":650,"LOD":0.56},{"cM":650,"LOD":0.38},{"cM":650,"LOD":0.20},{"cM":650,"LOD":0.04},
{"cM":653,"LOD":0.64},{"cM":653,"LOD":0.46},{"cM":653,"LOD":0.28},{"cM":653,"LOD":0.10},
{"cM":656,"LOD":0.80},{"cM":656,"LOD":0.60},{"cM":656,"LOD":0.42},{"cM":656,"LOD":0.24},{"cM":656,"LOD":0.08},
{"cM":659,"LOD":0.86},{"cM":659,"LOD":0.68},{"cM":659,"LOD":0.50},{"cM":659,"LOD":0.32},{"cM":659,"LOD":0.14},
{"cM":661,"LOD":1.33},
{"cM":664,"LOD":0.92},{"cM":664,"LOD":0.74},{"cM":664,"LOD":0.56},{"cM":664,"LOD":0.38},{"cM":664,"LOD":0.20},{"cM":664,"LOD":0.04},
{"cM":667,"LOD":1.26},{"cM":667,"LOD":1.04},{"cM":667,"LOD":0.84},{"cM":667,"LOD":0.66},{"cM":667,"LOD":0.48},{"cM":667,"LOD":0.30},{"cM":667,"LOD":0.12},
{"cM":670,"LOD":0.90},{"cM":670,"LOD":0.72},{"cM":670,"LOD":0.54},{"cM":670,"LOD":0.36},{"cM":670,"LOD":0.18},
{"cM":673,"LOD":0.82},{"cM":673,"LOD":0.64},{"cM":673,"LOD":0.46},{"cM":673,"LOD":0.28},{"cM":673,"LOD":0.10},
{"cM":676,"LOD":0.95},{"cM":676,"LOD":0.76},{"cM":676,"LOD":0.58},{"cM":676,"LOD":0.40},{"cM":676,"LOD":0.22},{"cM":676,"LOD":0.04},
{"cM":679,"LOD":0.88},{"cM":679,"LOD":0.70},{"cM":679,"LOD":0.52},{"cM":679,"LOD":0.34},{"cM":679,"LOD":0.16},
{"cM":682,"LOD":1.04},{"cM":682,"LOD":0.80},{"cM":682,"LOD":0.62},{"cM":682,"LOD":0.44},{"cM":682,"LOD":0.26},{"cM":682,"LOD":0.08},
{"cM":685,"LOD":0.72},{"cM":685,"LOD":0.54},{"cM":685,"LOD":0.36},{"cM":685,"LOD":0.18},{"cM":685,"LOD":0.02},
{"cM":688,"LOD":0.64},{"cM":688,"LOD":0.46},{"cM":688,"LOD":0.28},{"cM":688,"LOD":0.10},
{"cM":691,"LOD":0.80},{"cM":691,"LOD":0.62},{"cM":691,"LOD":0.44},{"cM":691,"LOD":0.26},{"cM":691,"LOD":0.08},
{"cM":694,"LOD":0.90},{"cM":694,"LOD":0.72},{"cM":694,"LOD":0.54},{"cM":694,"LOD":0.36},{"cM":694,"LOD":0.18},
{"cM":697,"LOD":1.02},{"cM":697,"LOD":0.84},{"cM":697,"LOD":0.66},{"cM":697,"LOD":0.48},{"cM":697,"LOD":0.30},{"cM":697,"LOD":0.12},
{"cM":700,"LOD":1.12},{"cM":700,"LOD":0.94},{"cM":700,"LOD":0.76},{"cM":700,"LOD":0.58},{"cM":700,"LOD":0.40},{"cM":700,"LOD":0.22},
{"cM":703,"LOD":1.28},{"cM":703,"LOD":1.08},{"cM":703,"LOD":0.90},{"cM":703,"LOD":0.72},{"cM":703,"LOD":0.54},
{"cM":705,"LOD":1.55},
{"cM":706,"LOD":1.20},{"cM":706,"LOD":1.00},{"cM":706,"LOD":0.82},{"cM":706,"LOD":0.64},{"cM":706,"LOD":0.46},{"cM":706,"LOD":0.28},
{"cM":708,"LOD":1.77},{"cM":708,"LOD":1.62},
{"cM":710,"LOD":1.38},{"cM":710,"LOD":1.14},{"cM":710,"LOD":0.96},{"cM":710,"LOD":0.78},{"cM":710,"LOD":0.60},
{"cM":713,"LOD":1.60},{"cM":713,"LOD":1.06},{"cM":713,"LOD":0.88},{"cM":713,"LOD":0.70},
{"cM":715,"LOD":1.75},{"cM":715,"LOD":1.45},
{"cM":717,"LOD":1.50},{"cM":717,"LOD":1.24},{"cM":717,"LOD":1.00},{"cM":717,"LOD":0.80},{"cM":717,"LOD":0.62},
{"cM":720,"LOD":1.10},{"cM":720,"LOD":0.90},{"cM":720,"LOD":0.72},{"cM":720,"LOD":0.50},{"cM":720,"LOD":0.24},{"cM":720,"LOD":0.08},
{"cM":723,"LOD":0.84},{"cM":723,"LOD":0.66},{"cM":723,"LOD":0.18},{"cM":723,"LOD":0.04},
{"cM":726,"LOD":0.60},{"cM":726,"LOD":0.42},{"cM":726,"LOD":0.26},{"cM":726,"LOD":0.10},
{"cM":729,"LOD":0.52},{"cM":729,"LOD":0.36},{"cM":729,"LOD":0.20},{"cM":729,"LOD":0.04},
{"cM":732,"LOD":0.46},{"cM":732,"LOD":0.30},{"cM":732,"LOD":0.14},
{"cM":735,"LOD":0.56},{"cM":735,"LOD":0.40},{"cM":735,"LOD":0.24},{"cM":735,"LOD":0.08},
{"cM":738,"LOD":0.62},{"cM":738,"LOD":0.46},{"cM":738,"LOD":0.30},{"cM":738,"LOD":0.14},{"cM":738,"LOD":0.02},
{"cM":741,"LOD":0.58},{"cM":741,"LOD":0.42},{"cM":741,"LOD":0.26},{"cM":741,"LOD":0.10},
{"cM":744,"LOD":0.65},{"cM":744,"LOD":0.48},{"cM":744,"LOD":0.32},{"cM":744,"LOD":0.16},{"cM":744,"LOD":0.04},
{"cM":747,"LOD":0.54},{"cM":747,"LOD":0.38},{"cM":747,"LOD":0.22},{"cM":747,"LOD":0.06},
{"cM":750,"LOD":0.60},{"cM":750,"LOD":0.44},{"cM":750,"LOD":0.28},{"cM":750,"LOD":0.12},
{"cM":753,"LOD":0.70},{"cM":753,"LOD":0.52},{"cM":753,"LOD":0.36},{"cM":753,"LOD":0.20},{"cM":753,"LOD":0.04},
{"cM":756,"LOD":0.64},{"cM":756,"LOD":0.48},{"cM":756,"LOD":0.32},{"cM":756,"LOD":0.16},
{"cM":759,"LOD":0.58},{"cM":759,"LOD":0.42},{"cM":759,"LOD":0.26},{"cM":759,"LOD":0.10},
{"cM":762,"LOD":0.52},{"cM":762,"LOD":0.36},{"cM":762,"LOD":0.20},{"cM":762,"LOD":0.04},
{"cM":765,"LOD":0.68},{"cM":765,"LOD":0.50},{"cM":765,"LOD":0.34},{"cM":765,"LOD":0.18},
{"cM":768,"LOD":0.62},{"cM":768,"LOD":0.46},{"cM":768,"LOD":0.30},{"cM":768,"LOD":0.14},{"cM":768,"LOD":0.02},
{"cM":771,"LOD":0.76},{"cM":771,"LOD":0.56},{"cM":771,"LOD":0.40},{"cM":771,"LOD":0.24},{"cM":771,"LOD":0.08},
{"cM":774,"LOD":0.66},{"cM":774,"LOD":0.50},{"cM":774,"LOD":0.34},{"cM":774,"LOD":0.18},
{"cM":777,"LOD":0.60},{"cM":777,"LOD":0.44},{"cM":777,"LOD":0.28},{"cM":777,"LOD":0.12},
{"cM":780,"LOD":0.54},{"cM":780,"LOD":0.38},{"cM":780,"LOD":0.22},{"cM":780,"LOD":0.06},
{"cM":783,"LOD":0.64},{"cM":783,"LOD":0.48},{"cM":783,"LOD":0.32},{"cM":783,"LOD":0.16},{"cM":783,"LOD":0.02},
{"cM":786,"LOD":0.72},{"cM":786,"LOD":0.56},{"cM":786,"LOD":0.40},{"cM":786,"LOD":0.24},{"cM":786,"LOD":0.08},
{"cM":789,"LOD":0.66},{"cM":789,"LOD":0.50},{"cM":789,"LOD":0.34},{"cM":789,"LOD":0.18},
{"cM":792,"LOD":0.56},{"cM":792,"LOD":0.40},{"cM":792,"LOD":0.24},{"cM":792,"LOD":0.08},
{"cM":795,"LOD":0.50},{"cM":795,"LOD":0.34},{"cM":795,"LOD":0.18},{"cM":795,"LOD":0.02},
{"cM":798,"LOD":0.44},{"cM":798,"LOD":0.28},{"cM":798,"LOD":0.12},
{"cM":801,"LOD":0.43},{"cM":801,"LOD":0.30},{"cM":801,"LOD":0.16},{"cM":801,"LOD":0.04},
{"cM":804,"LOD":0.36},{"cM":804,"LOD":0.22},{"cM":804,"LOD":0.08},
{"cM":807,"LOD":0.40},{"cM":807,"LOD":0.26},{"cM":807,"LOD":0.12},
{"cM":810,"LOD":0.32},{"cM":810,"LOD":0.18},{"cM":810,"LOD":0.04},
{"cM":813,"LOD":0.28},{"cM":813,"LOD":0.14},{"cM":813,"LOD":0.02},
{"cM":816,"LOD":0.22},{"cM":816,"LOD":0.08},
{"cM":820,"LOD":0.62},{"cM":820,"LOD":0.46},{"cM":820,"LOD":0.30},{"cM":820,"LOD":0.14},
{"cM":823,"LOD":0.74},{"cM":823,"LOD":0.56},{"cM":823,"LOD":0.40},{"cM":823,"LOD":0.24},{"cM":823,"LOD":0.08},
{"cM":826,"LOD":0.68},{"cM":826,"LOD":0.52},{"cM":826,"LOD":0.36},{"cM":826,"LOD":0.20},{"cM":826,"LOD":0.04},
{"cM":829,"LOD":0.77},{"cM":829,"LOD":0.60},{"cM":829,"LOD":0.44},{"cM":829,"LOD":0.28},{"cM":829,"LOD":0.12},
{"cM":832,"LOD":0.70},{"cM":832,"LOD":0.54},{"cM":832,"LOD":0.38},{"cM":832,"LOD":0.22},{"cM":832,"LOD":0.06},
{"cM":835,"LOD":0.64},{"cM":835,"LOD":0.48},{"cM":835,"LOD":0.32},{"cM":835,"LOD":0.16},
{"cM":838,"LOD":0.85},{"cM":838,"LOD":0.66},{"cM":838,"LOD":0.50},{"cM":838,"LOD":0.34},{"cM":838,"LOD":0.18},{"cM":838,"LOD":0.02},
{"cM":841,"LOD":0.93},{"cM":841,"LOD":0.72},{"cM":841,"LOD":0.56},{"cM":841,"LOD":0.40},{"cM":841,"LOD":0.24},{"cM":841,"LOD":0.08},
{"cM":844,"LOD":0.78},{"cM":844,"LOD":0.60},{"cM":844,"LOD":0.44},{"cM":844,"LOD":0.28},{"cM":844,"LOD":0.12},
{"cM":847,"LOD":0.66},{"cM":847,"LOD":0.50},{"cM":847,"LOD":0.34},{"cM":847,"LOD":0.18},{"cM":847,"LOD":0.04},
{"cM":850,"LOD":0.58},{"cM":850,"LOD":0.42},{"cM":850,"LOD":0.26},{"cM":850,"LOD":0.10},
{"cM":853,"LOD":0.52},{"cM":853,"LOD":0.36},{"cM":853,"LOD":0.20},{"cM":853,"LOD":0.06},
{"cM":856,"LOD":0.46},{"cM":856,"LOD":0.30},{"cM":856,"LOD":0.14},
{"cM":859,"LOD":0.40},{"cM":859,"LOD":0.24},{"cM":859,"LOD":0.08},
{"cM":862,"LOD":0.48},{"cM":862,"LOD":0.32},{"cM":862,"LOD":0.16},{"cM":862,"LOD":0.02},
{"cM":865,"LOD":0.38},{"cM":865,"LOD":0.22},{"cM":865,"LOD":0.06},
{"cM":868,"LOD":0.44},{"cM":868,"LOD":0.28},{"cM":868,"LOD":0.12},
{"cM":871,"LOD":0.55},{"cM":871,"LOD":0.36},{"cM":871,"LOD":0.20},{"cM":871,"LOD":0.04},
{"cM":874,"LOD":0.50},{"cM":874,"LOD":0.34},{"cM":874,"LOD":0.18},
{"cM":877,"LOD":0.42},{"cM":877,"LOD":0.26},{"cM":877,"LOD":0.10},
{"cM":880,"LOD":0.56},{"cM":880,"LOD":0.40},{"cM":880,"LOD":0.24},{"cM":880,"LOD":0.08},
{"cM":883,"LOD":0.62},{"cM":883,"LOD":0.46},{"cM":883,"LOD":0.30},{"cM":883,"LOD":0.14},
{"cM":886,"LOD":0.52},{"cM":886,"LOD":0.36},{"cM":886,"LOD":0.20},{"cM":886,"LOD":0.04},
{"cM":889,"LOD":0.66},{"cM":889,"LOD":0.50},{"cM":889,"LOD":0.34},{"cM":889,"LOD":0.18},
{"cM":892,"LOD":0.98},{"cM":892,"LOD":0.76},{"cM":892,"LOD":0.58},{"cM":892,"LOD":0.42},{"cM":892,"LOD":0.26},{"cM":892,"LOD":0.10},
{"cM":895,"LOD":0.90},{"cM":895,"LOD":0.70},{"cM":895,"LOD":0.54},{"cM":895,"LOD":0.38},{"cM":895,"LOD":0.22},{"cM":895,"LOD":0.06},
{"cM":898,"LOD":0.82},{"cM":898,"LOD":0.64},{"cM":898,"LOD":0.48},{"cM":898,"LOD":0.32},{"cM":898,"LOD":0.16},
{"cM":901,"LOD":0.88},{"cM":901,"LOD":0.68},{"cM":901,"LOD":0.52},{"cM":901,"LOD":0.36},{"cM":901,"LOD":0.20},{"cM":901,"LOD":0.04},
{"cM":904,"LOD":0.72},{"cM":904,"LOD":0.56},{"cM":904,"LOD":0.40},{"cM":904,"LOD":0.24},{"cM":904,"LOD":0.08},
{"cM":907,"LOD":0.66},{"cM":907,"LOD":0.50},{"cM":907,"LOD":0.34},{"cM":907,"LOD":0.18},
{"cM":910,"LOD":0.60},{"cM":910,"LOD":0.44},{"cM":910,"LOD":0.28},{"cM":910,"LOD":0.12},
{"cM":913,"LOD":0.79},{"cM":913,"LOD":0.58},{"cM":913,"LOD":0.42},{"cM":913,"LOD":0.26},{"cM":913,"LOD":0.10},
{"cM":916,"LOD":0.70},{"cM":916,"LOD":0.54},{"cM":916,"LOD":0.38},{"cM":916,"LOD":0.22},{"cM":916,"LOD":0.06},
{"cM":919,"LOD":0.76},{"cM":919,"LOD":0.56},{"cM":919,"LOD":0.40},{"cM":919,"LOD":0.24},{"cM":919,"LOD":0.08},
{"cM":922,"LOD":0.64},{"cM":922,"LOD":0.48},{"cM":922,"LOD":0.32},{"cM":922,"LOD":0.16},
{"cM":925,"LOD":0.58},{"cM":925,"LOD":0.42},{"cM":925,"LOD":0.26},{"cM":925,"LOD":0.10},
{"cM":928,"LOD":0.52},{"cM":928,"LOD":0.36},{"cM":928,"LOD":0.20},{"cM":928,"LOD":0.04},
{"cM":931,"LOD":0.57},{"cM":931,"LOD":0.40},{"cM":931,"LOD":0.24},{"cM":931,"LOD":0.08},
{"cM":934,"LOD":0.48},{"cM":934,"LOD":0.32},{"cM":934,"LOD":0.16},
{"cM":937,"LOD":0.60},{"cM":937,"LOD":0.44},{"cM":937,"LOD":0.28},{"cM":937,"LOD":0.12},
{"cM":940,"LOD":0.72},{"cM":940,"LOD":0.54},{"cM":940,"LOD":0.38},{"cM":940,"LOD":0.22},{"cM":940,"LOD":0.06},
{"cM":943,"LOD":0.80},{"cM":943,"LOD":0.62},{"cM":943,"LOD":0.46},{"cM":943,"LOD":0.30},{"cM":943,"LOD":0.14},
{"cM":946,"LOD":0.90},{"cM":946,"LOD":0.70},{"cM":946,"LOD":0.52},{"cM":946,"LOD":0.36},{"cM":946,"LOD":0.20},{"cM":946,"LOD":0.04},
{"cM":949,"LOD":0.84},{"cM":949,"LOD":0.64},{"cM":949,"LOD":0.48},{"cM":949,"LOD":0.32},{"cM":949,"LOD":0.16},
{"cM":952,"LOD":0.93},{"cM":952,"LOD":0.74},{"cM":952,"LOD":0.56},{"cM":952,"LOD":0.40},{"cM":952,"LOD":0.24},{"cM":952,"LOD":0.08},
{"cM":955,"LOD":0.86},{"cM":955,"LOD":0.68},{"cM":955,"LOD":0.50},{"cM":955,"LOD":0.34},{"cM":955,"LOD":0.18},
{"cM":958,"LOD":0.96},{"cM":958,"LOD":0.80},{"cM":958,"LOD":0.64},{"cM":958,"LOD":0.48},{"cM":958,"LOD":0.32},{"cM":958,"LOD":0.16},
{"cM":961,"LOD":1.10},{"cM":961,"LOD":0.94},{"cM":961,"LOD":0.78},{"cM":961,"LOD":0.62},{"cM":961,"LOD":0.46},{"cM":961,"LOD":0.30},
{"cM":964,"LOD":1.00},{"cM":964,"LOD":0.84},{"cM":964,"LOD":0.68},{"cM":964,"LOD":0.52},{"cM":964,"LOD":0.36},{"cM":964,"LOD":0.20},
{"cM":967,"LOD":1.17},{"cM":967,"LOD":1.02},{"cM":967,"LOD":0.86},{"cM":967,"LOD":0.70},{"cM":967,"LOD":0.54},{"cM":967,"LOD":0.38},{"cM":967,"LOD":0.22},
{"cM":970,"LOD":1.74},{"cM":970,"LOD":1.28},{"cM":970,"LOD":1.12},{"cM":970,"LOD":0.96},{"cM":970,"LOD":0.80},{"cM":970,"LOD":0.64},{"cM":970,"LOD":0.48},{"cM":970,"LOD":0.32},{"cM":970,"LOD":0.16},
{"cM":973,"LOD":1.37},{"cM":973,"LOD":1.20},{"cM":973,"LOD":1.04},{"cM":973,"LOD":0.88},{"cM":973,"LOD":0.72},{"cM":973,"LOD":0.56},{"cM":973,"LOD":0.40},{"cM":973,"LOD":0.24},
{"cM":976,"LOD":1.44},{"cM":976,"LOD":1.30},{"cM":976,"LOD":1.14},{"cM":976,"LOD":0.98},{"cM":976,"LOD":0.82},{"cM":976,"LOD":0.66},{"cM":976,"LOD":0.50},{"cM":976,"LOD":0.34},
{"cM":979,"LOD":1.40},{"cM":979,"LOD":1.26},{"cM":979,"LOD":1.08},{"cM":979,"LOD":0.92},{"cM":979,"LOD":0.76},{"cM":979,"LOD":0.60},{"cM":979,"LOD":0.44},{"cM":979,"LOD":0.28},{"cM":979,"LOD":0.12},
{"cM":982,"LOD":1.28},{"cM":982,"LOD":1.10},{"cM":982,"LOD":0.94},{"cM":982,"LOD":0.78},{"cM":982,"LOD":0.62},{"cM":982,"LOD":0.46},{"cM":982,"LOD":0.30},
{"cM":985,"LOD":1.08},{"cM":985,"LOD":0.92},{"cM":985,"LOD":0.76},{"cM":985,"LOD":0.60},{"cM":985,"LOD":0.44},{"cM":985,"LOD":0.28},{"cM":985,"LOD":0.14},
{"cM":988,"LOD":0.98},{"cM":988,"LOD":0.82},{"cM":988,"LOD":0.66},{"cM":988,"LOD":0.50},{"cM":988,"LOD":0.34},{"cM":988,"LOD":0.18},{"cM":988,"LOD":0.04},
{"cM":991,"LOD":0.90},{"cM":991,"LOD":0.74},{"cM":991,"LOD":0.58},{"cM":991,"LOD":0.42},{"cM":991,"LOD":0.26},{"cM":991,"LOD":0.10},
{"cM":994,"LOD":1.12},{"cM":994,"LOD":0.96},{"cM":994,"LOD":0.80},{"cM":994,"LOD":0.64},{"cM":994,"LOD":0.48},{"cM":994,"LOD":0.32},{"cM":994,"LOD":0.16},
{"cM":997,"LOD":1.04},{"cM":997,"LOD":0.86},{"cM":997,"LOD":0.70},{"cM":997,"LOD":0.54},{"cM":997,"LOD":0.38},{"cM":997,"LOD":0.22},{"cM":997,"LOD":0.06},
{"cM":1000,"LOD":0.92},{"cM":1000,"LOD":0.76},{"cM":1000,"LOD":0.60},{"cM":1000,"LOD":0.44},{"cM":1000,"LOD":0.28},{"cM":1000,"LOD":0.12},
{"cM":1003,"LOD":0.84},{"cM":1003,"LOD":0.68},{"cM":1003,"LOD":0.52},{"cM":1003,"LOD":0.36},{"cM":1003,"LOD":0.20},{"cM":1003,"LOD":0.04},
{"cM":1006,"LOD":0.78},{"cM":1006,"LOD":0.62},{"cM":1006,"LOD":0.46},{"cM":1006,"LOD":0.30},{"cM":1006,"LOD":0.14},
{"cM":1009,"LOD":0.72},{"cM":1009,"LOD":0.56},{"cM":1009,"LOD":0.40},{"cM":1009,"LOD":0.24},{"cM":1009,"LOD":0.08},
{"cM":1012,"LOD":0.76},{"cM":1012,"LOD":0.58},{"cM":1012,"LOD":0.42},{"cM":1012,"LOD":0.26},{"cM":1012,"LOD":0.10},
{"cM":1015,"LOD":0.66},{"cM":1015,"LOD":0.50},{"cM":1015,"LOD":0.34},{"cM":1015,"LOD":0.18},{"cM":1015,"LOD":0.02},
{"cM":1018,"LOD":0.60},{"cM":1018,"LOD":0.44},{"cM":1018,"LOD":0.28},{"cM":1018,"LOD":0.12},
{"cM":1021,"LOD":0.70},{"cM":1021,"LOD":0.52},{"cM":1021,"LOD":0.36},{"cM":1021,"LOD":0.20},{"cM":1021,"LOD":0.04},
{"cM":1024,"LOD":0.64},{"cM":1024,"LOD":0.48},{"cM":1024,"LOD":0.32},{"cM":1024,"LOD":0.16},
{"cM":1027,"LOD":0.72},{"cM":1027,"LOD":0.54},{"cM":1027,"LOD":0.38},{"cM":1027,"LOD":0.22},{"cM":1027,"LOD":0.06},
{"cM":1030,"LOD":0.58},{"cM":1030,"LOD":0.42},{"cM":1030,"LOD":0.26},{"cM":1030,"LOD":0.10},
{"cM":1033,"LOD":0.68},{"cM":1033,"LOD":0.50},{"cM":1033,"LOD":0.34},{"cM":1033,"LOD":0.18},{"cM":1033,"LOD":0.02},
{"cM":1036,"LOD":0.46},{"cM":1036,"LOD":0.30},{"cM":1036,"LOD":0.14},
{"cM":1039,"LOD":0.40},{"cM":1039,"LOD":0.24},{"cM":1039,"LOD":0.08},
{"cM":1042,"LOD":0.34},{"cM":1042,"LOD":0.18},{"cM":1042,"LOD":0.02},
{"cM":1045,"LOD":0.30},{"cM":1045,"LOD":0.14},
{"cM":1048,"LOD":0.36},{"cM":1048,"LOD":0.20},{"cM":1048,"LOD":0.04},
{"cM":1051,"LOD":0.28},{"cM":1051,"LOD":0.12},
{"cM":1054,"LOD":0.38},{"cM":1054,"LOD":0.22},{"cM":1054,"LOD":0.06},
{"cM":1057,"LOD":0.44},{"cM":1057,"LOD":0.28},{"cM":1057,"LOD":0.12},
{"cM":1060,"LOD":0.50},{"cM":1060,"LOD":0.34},{"cM":1060,"LOD":0.18},{"cM":1060,"LOD":0.02},
{"cM":1063,"LOD":0.58},{"cM":1063,"LOD":0.42},{"cM":1063,"LOD":0.26},{"cM":1063,"LOD":0.10},
{"cM":1066,"LOD":0.66},{"cM":1066,"LOD":0.50},{"cM":1066,"LOD":0.34},{"cM":1066,"LOD":0.18},{"cM":1066,"LOD":0.04},
{"cM":1069,"LOD":0.74},{"cM":1069,"LOD":0.56},{"cM":1069,"LOD":0.40},{"cM":1069,"LOD":0.24},{"cM":1069,"LOD":0.08},
{"cM":1072,"LOD":0.82},{"cM":1072,"LOD":0.64},{"cM":1072,"LOD":0.48},{"cM":1072,"LOD":0.32},{"cM":1072,"LOD":0.16},
{"cM":1075,"LOD":0.90},{"cM":1075,"LOD":0.72},{"cM":1075,"LOD":0.54},{"cM":1075,"LOD":0.38},{"cM":1075,"LOD":0.22},{"cM":1075,"LOD":0.06},
{"cM":1078,"LOD":0.96},{"cM":1078,"LOD":0.78},{"cM":1078,"LOD":0.60},{"cM":1078,"LOD":0.44},{"cM":1078,"LOD":0.28},{"cM":1078,"LOD":0.12},
{"cM":1081,"LOD":1.00},{"cM":1081,"LOD":0.84},{"cM":1081,"LOD":0.66},{"cM":1081,"LOD":0.50},{"cM":1081,"LOD":0.34},{"cM":1081,"LOD":0.18},{"cM":1081,"LOD":0.02},
{"cM":1084,"LOD":1.17},{"cM":1084,"LOD":1.08},{"cM":1084,"LOD":0.90},{"cM":1084,"LOD":0.72},{"cM":1084,"LOD":0.56},{"cM":1084,"LOD":0.40},{"cM":1084,"LOD":0.24},{"cM":1084,"LOD":0.08},
{"cM":1088,"LOD":0.98},{"cM":1088,"LOD":0.80},{"cM":1088,"LOD":0.62},{"cM":1088,"LOD":0.44},{"cM":1088,"LOD":0.26},{"cM":1088,"LOD":0.10},
{"cM":1091,"LOD":0.86},{"cM":1091,"LOD":0.68},{"cM":1091,"LOD":0.50},{"cM":1091,"LOD":0.32},{"cM":1091,"LOD":0.14},
{"cM":1094,"LOD":0.76},{"cM":1094,"LOD":0.58},{"cM":1094,"LOD":0.40},{"cM":1094,"LOD":0.22},{"cM":1094,"LOD":0.06},
{"cM":1097,"LOD":0.70},{"cM":1097,"LOD":0.52},{"cM":1097,"LOD":0.34},{"cM":1097,"LOD":0.16},{"cM":1097,"LOD":0.02},
{"cM":1100,"LOD":0.62},{"cM":1100,"LOD":0.44},{"cM":1100,"LOD":0.26},{"cM":1100,"LOD":0.10},
{"cM":1103,"LOD":0.72},{"cM":1103,"LOD":0.54},{"cM":1103,"LOD":0.36},{"cM":1103,"LOD":0.18},{"cM":1103,"LOD":0.04},
{"cM":1106,"LOD":0.66},{"cM":1106,"LOD":0.48},{"cM":1106,"LOD":0.30},{"cM":1106,"LOD":0.12},
{"cM":1109,"LOD":0.74},{"cM":1109,"LOD":0.56},{"cM":1109,"LOD":0.38},{"cM":1109,"LOD":0.20},{"cM":1109,"LOD":0.06},
{"cM":1112,"LOD":0.80},{"cM":1112,"LOD":0.62},{"cM":1112,"LOD":0.44},{"cM":1112,"LOD":0.26},{"cM":1112,"LOD":0.10},
{"cM":1115,"LOD":0.70},{"cM":1115,"LOD":0.52},{"cM":1115,"LOD":0.34},{"cM":1115,"LOD":0.16},{"cM":1115,"LOD":0.02},
{"cM":1118,"LOD":0.76},{"cM":1118,"LOD":0.58},{"cM":1118,"LOD":0.40},{"cM":1118,"LOD":0.22},{"cM":1118,"LOD":0.08},
{"cM":1121,"LOD":0.68},{"cM":1121,"LOD":0.50},{"cM":1121,"LOD":0.32},{"cM":1121,"LOD":0.14},
{"cM":1124,"LOD":0.78},{"cM":1124,"LOD":0.60},{"cM":1124,"LOD":0.42},{"cM":1124,"LOD":0.24},{"cM":1124,"LOD":0.06},
{"cM":1127,"LOD":0.72},{"cM":1127,"LOD":0.54},{"cM":1127,"LOD":0.36},{"cM":1127,"LOD":0.18},
{"cM":1130,"LOD":1.14},{"cM":1130,"LOD":0.64},{"cM":1130,"LOD":0.46},{"cM":1130,"LOD":0.28},{"cM":1130,"LOD":0.10},
{"cM":1133,"LOD":0.74},{"cM":1133,"LOD":0.56},{"cM":1133,"LOD":0.38},{"cM":1133,"LOD":0.20},{"cM":1133,"LOD":0.04},
{"cM":1136,"LOD":0.68},{"cM":1136,"LOD":0.50},{"cM":1136,"LOD":0.32},{"cM":1136,"LOD":0.14},
{"cM":1139,"LOD":0.76},{"cM":1139,"LOD":0.58},{"cM":1139,"LOD":0.40},{"cM":1139,"LOD":0.22},{"cM":1139,"LOD":0.08},
{"cM":1142,"LOD":0.70},{"cM":1142,"LOD":0.52},{"cM":1142,"LOD":0.34},{"cM":1142,"LOD":0.16},{"cM":1142,"LOD":0.02},
{"cM":1145,"LOD":0.80},{"cM":1145,"LOD":0.62},{"cM":1145,"LOD":0.44},{"cM":1145,"LOD":0.26},{"cM":1145,"LOD":0.10},
{"cM":1148,"LOD":0.72},{"cM":1148,"LOD":0.54},{"cM":1148,"LOD":0.36},{"cM":1148,"LOD":0.18},{"cM":1148,"LOD":0.04},
{"cM":1151,"LOD":0.66},{"cM":1151,"LOD":0.48},{"cM":1151,"LOD":0.30},{"cM":1151,"LOD":0.12},
{"cM":1154,"LOD":0.78},{"cM":1154,"LOD":0.60},{"cM":1154,"LOD":0.42},{"cM":1154,"LOD":0.24},{"cM":1154,"LOD":0.08},
{"cM":1157,"LOD":0.74},{"cM":1157,"LOD":0.56},{"cM":1157,"LOD":0.38},{"cM":1157,"LOD":0.20},{"cM":1157,"LOD":0.02},
{"cM":1160,"LOD":0.91},{"cM":1160,"LOD":0.70},{"cM":1160,"LOD":0.52},{"cM":1160,"LOD":0.34},{"cM":1160,"LOD":0.16},
{"cM":1163,"LOD":0.90},{"cM":1163,"LOD":0.74},{"cM":1163,"LOD":0.56},{"cM":1163,"LOD":0.38},{"cM":1163,"LOD":0.20},{"cM":1163,"LOD":0.06},
{"cM":1166,"LOD":0.76},{"cM":1166,"LOD":0.58},{"cM":1166,"LOD":0.40},{"cM":1166,"LOD":0.22},{"cM":1166,"LOD":0.10},
{"cM":1169,"LOD":0.68},{"cM":1169,"LOD":0.50},{"cM":1169,"LOD":0.32},{"cM":1169,"LOD":0.14},
{"cM":1172,"LOD":0.64},{"cM":1172,"LOD":0.46},{"cM":1172,"LOD":0.28},{"cM":1172,"LOD":0.10},
{"cM":1175,"LOD":0.72},{"cM":1175,"LOD":0.54},{"cM":1175,"LOD":0.36},{"cM":1175,"LOD":0.18},
{"cM":1178,"LOD":1.02},{"cM":1178,"LOD":0.84},{"cM":1178,"LOD":0.66},{"cM":1178,"LOD":0.48},{"cM":1178,"LOD":0.30},{"cM":1178,"LOD":0.14},
{"cM":1181,"LOD":1.14},{"cM":1181,"LOD":0.96},{"cM":1181,"LOD":0.78},{"cM":1181,"LOD":0.60},{"cM":1181,"LOD":0.42},{"cM":1181,"LOD":0.24},
{"cM":1183,"LOD":1.50},{"cM":1183,"LOD":1.30},
{"cM":1184,"LOD":2.02},{"cM":1184,"LOD":1.23},{"cM":1184,"LOD":1.06},{"cM":1184,"LOD":0.88},{"cM":1184,"LOD":0.70},{"cM":1184,"LOD":0.52},{"cM":1184,"LOD":0.34},
{"cM":1186,"LOD":1.69},{"cM":1186,"LOD":1.44},
{"cM":1187,"LOD":2.09},{"cM":1187,"LOD":1.84},{"cM":1187,"LOD":1.00},{"cM":1187,"LOD":0.82},{"cM":1187,"LOD":0.64},{"cM":1187,"LOD":0.46},{"cM":1187,"LOD":0.28},
{"cM":1189,"LOD":1.60},{"cM":1189,"LOD":1.37},
{"cM":1190,"LOD":2.17},{"cM":1190,"LOD":1.92},{"cM":1190,"LOD":1.16},{"cM":1190,"LOD":0.94},{"cM":1190,"LOD":0.76},{"cM":1190,"LOD":0.58},{"cM":1190,"LOD":0.40},
{"cM":1193,"LOD":1.06},{"cM":1193,"LOD":0.88},{"cM":1193,"LOD":0.70},{"cM":1193,"LOD":0.52},{"cM":1193,"LOD":0.34},{"cM":1193,"LOD":0.18},
{"cM":1196,"LOD":0.96},{"cM":1196,"LOD":0.78},{"cM":1196,"LOD":0.60},{"cM":1196,"LOD":0.42},{"cM":1196,"LOD":0.24},{"cM":1196,"LOD":0.08},
{"cM":1199,"LOD":0.86},{"cM":1199,"LOD":0.68},{"cM":1199,"LOD":0.50},{"cM":1199,"LOD":0.32},{"cM":1199,"LOD":0.16},
{"cM":1202,"LOD":0.95},{"cM":1202,"LOD":0.74},{"cM":1202,"LOD":0.56},{"cM":1202,"LOD":0.38},{"cM":1202,"LOD":0.20},{"cM":1202,"LOD":0.04},
{"cM":1205,"LOD":0.82},{"cM":1205,"LOD":0.64},{"cM":1205,"LOD":0.46},{"cM":1205,"LOD":0.28},{"cM":1205,"LOD":0.12},
{"cM":1208,"LOD":0.70},{"cM":1208,"LOD":0.52},{"cM":1208,"LOD":0.34},{"cM":1208,"LOD":0.16},{"cM":1208,"LOD":0.02},
{"cM":1211,"LOD":0.93},{"cM":1211,"LOD":0.78},{"cM":1211,"LOD":0.60},{"cM":1211,"LOD":0.42},{"cM":1211,"LOD":0.24},{"cM":1211,"LOD":0.08},
{"cM":1214,"LOD":0.84},{"cM":1214,"LOD":0.66},{"cM":1214,"LOD":0.48},{"cM":1214,"LOD":0.30},{"cM":1214,"LOD":0.12},
{"cM":1217,"LOD":0.60},{"cM":1217,"LOD":0.44},{"cM":1217,"LOD":0.28},{"cM":1217,"LOD":0.10},
{"cM":1220,"LOD":0.40},{"cM":1220,"LOD":0.24},{"cM":1220,"LOD":0.08},
{"cM":1223,"LOD":0.36},{"cM":1223,"LOD":0.20},{"cM":1223,"LOD":0.04},
{"cM":1226,"LOD":0.30},{"cM":1226,"LOD":0.14},
{"cM":1229,"LOD":0.34},{"cM":1229,"LOD":0.18},{"cM":1229,"LOD":0.02},
{"cM":1232,"LOD":0.28},{"cM":1232,"LOD":0.12},
{"cM":1235,"LOD":0.42},{"cM":1235,"LOD":0.26},{"cM":1235,"LOD":0.10},
{"cM":1238,"LOD":0.74},{"cM":1238,"LOD":0.58},{"cM":1238,"LOD":0.40},{"cM":1238,"LOD":0.22},{"cM":1238,"LOD":0.06},
{"cM":1241,"LOD":0.95},{"cM":1241,"LOD":0.80},{"cM":1241,"LOD":0.62},{"cM":1241,"LOD":0.44},{"cM":1241,"LOD":0.26},{"cM":1241,"LOD":0.10},
{"cM":1244,"LOD":2.09},{"cM":1244,"LOD":1.26},{"cM":1244,"LOD":1.14},{"cM":1244,"LOD":0.96},{"cM":1244,"LOD":0.78},{"cM":1244,"LOD":0.60},{"cM":1244,"LOD":0.42},{"cM":1244,"LOD":0.24},{"cM":1244,"LOD":0.06},
{"cM":1247,"LOD":0.74},{"cM":1247,"LOD":0.56},{"cM":1247,"LOD":0.38},{"cM":1247,"LOD":0.20},{"cM":1247,"LOD":0.04},
{"cM":1250,"LOD":0.64},{"cM":1250,"LOD":0.46},{"cM":1250,"LOD":0.28},{"cM":1250,"LOD":0.12},
{"cM":1253,"LOD":0.58},{"cM":1253,"LOD":0.40},{"cM":1253,"LOD":0.22},{"cM":1253,"LOD":0.06},
{"cM":1256,"LOD":0.50},{"cM":1256,"LOD":0.32},{"cM":1256,"LOD":0.16},
{"cM":1259,"LOD":0.44},{"cM":1259,"LOD":0.28},{"cM":1259,"LOD":0.12},
{"cM":1262,"LOD":0.52},{"cM":1262,"LOD":0.36},{"cM":1262,"LOD":0.20},{"cM":1262,"LOD":0.04},
{"cM":1265,"LOD":0.62},{"cM":1265,"LOD":0.44},{"cM":1265,"LOD":0.26},{"cM":1265,"LOD":0.10},
{"cM":1268,"LOD":0.70},{"cM":1268,"LOD":0.52},{"cM":1268,"LOD":0.34},{"cM":1268,"LOD":0.16},
{"cM":1271,"LOD":0.66},{"cM":1271,"LOD":0.48},{"cM":1271,"LOD":0.30},{"cM":1271,"LOD":0.12},
{"cM":1274,"LOD":0.76},{"cM":1274,"LOD":0.58},{"cM":1274,"LOD":0.40},{"cM":1274,"LOD":0.22},{"cM":1274,"LOD":0.06},
{"cM":1277,"LOD":0.84},{"cM":1277,"LOD":0.66},{"cM":1277,"LOD":0.48},{"cM":1277,"LOD":0.30},{"cM":1277,"LOD":0.14},
{"cM":1280,"LOD":0.79},{"cM":1280,"LOD":0.62},{"cM":1280,"LOD":0.44},{"cM":1280,"LOD":0.26},{"cM":1280,"LOD":0.08},
{"cM":1283,"LOD":0.88},{"cM":1283,"LOD":0.70},{"cM":1283,"LOD":0.52},{"cM":1283,"LOD":0.34},{"cM":1283,"LOD":0.18},
{"cM":1286,"LOD":0.95},{"cM":1286,"LOD":0.76},{"cM":1286,"LOD":0.58},{"cM":1286,"LOD":0.40},{"cM":1286,"LOD":0.22},{"cM":1286,"LOD":0.04},
{"cM":1289,"LOD":0.92},{"cM":1289,"LOD":0.74},{"cM":1289,"LOD":0.56},{"cM":1289,"LOD":0.38},{"cM":1289,"LOD":0.20},
{"cM":1291,"LOD":1.04},
{"cM":1292,"LOD":0.86},{"cM":1292,"LOD":0.68},{"cM":1292,"LOD":0.50},{"cM":1292,"LOD":0.32},{"cM":1292,"LOD":0.14},
{"cM":1295,"LOD":1.00},{"cM":1295,"LOD":0.80},{"cM":1295,"LOD":0.62},{"cM":1295,"LOD":0.44},{"cM":1295,"LOD":0.26},{"cM":1295,"LOD":0.08},
{"cM":1299,"LOD":1.00},{"cM":1299,"LOD":0.84},{"cM":1299,"LOD":0.66},{"cM":1299,"LOD":0.48},{"cM":1299,"LOD":0.30},{"cM":1299,"LOD":0.12},
{"cM":1302,"LOD":1.12},{"cM":1302,"LOD":0.94},{"cM":1302,"LOD":0.76},{"cM":1302,"LOD":0.58},{"cM":1302,"LOD":0.40},{"cM":1302,"LOD":0.22},{"cM":1302,"LOD":0.06},
{"cM":1305,"LOD":1.46},{"cM":1305,"LOD":1.28},{"cM":1305,"LOD":1.06},{"cM":1305,"LOD":0.88},{"cM":1305,"LOD":0.70},{"cM":1305,"LOD":0.52},{"cM":1305,"LOD":0.34},{"cM":1305,"LOD":0.16},
{"cM":1308,"LOD":1.37},{"cM":1308,"LOD":1.16},{"cM":1308,"LOD":0.98},{"cM":1308,"LOD":0.80},{"cM":1308,"LOD":0.62},{"cM":1308,"LOD":0.44},{"cM":1308,"LOD":0.26},{"cM":1308,"LOD":0.08},
{"cM":1311,"LOD":1.20},{"cM":1311,"LOD":1.02},{"cM":1311,"LOD":0.84},{"cM":1311,"LOD":0.66},{"cM":1311,"LOD":0.48},{"cM":1311,"LOD":0.30},{"cM":1311,"LOD":0.14},
{"cM":1314,"LOD":1.10},{"cM":1314,"LOD":0.92},{"cM":1314,"LOD":0.74},{"cM":1314,"LOD":0.56},{"cM":1314,"LOD":0.38},{"cM":1314,"LOD":0.20},{"cM":1314,"LOD":0.04},
{"cM":1317,"LOD":1.41},{"cM":1317,"LOD":1.18},{"cM":1317,"LOD":1.00},{"cM":1317,"LOD":0.82},{"cM":1317,"LOD":0.64},{"cM":1317,"LOD":0.46},{"cM":1317,"LOD":0.28},{"cM":1317,"LOD":0.10},
{"cM":1320,"LOD":1.06},{"cM":1320,"LOD":0.88},{"cM":1320,"LOD":0.70},{"cM":1320,"LOD":0.52},{"cM":1320,"LOD":0.34},{"cM":1320,"LOD":0.16},
{"cM":1323,"LOD":0.96},{"cM":1323,"LOD":0.78},{"cM":1323,"LOD":0.60},{"cM":1323,"LOD":0.42},{"cM":1323,"LOD":0.24},{"cM":1323,"LOD":0.08},
{"cM":1326,"LOD":1.12},{"cM":1326,"LOD":0.92},{"cM":1326,"LOD":0.74},{"cM":1326,"LOD":0.56},{"cM":1326,"LOD":0.38},{"cM":1326,"LOD":0.20},
{"cM":1329,"LOD":1.23},{"cM":1329,"LOD":1.04},{"cM":1329,"LOD":0.86},{"cM":1329,"LOD":0.68},{"cM":1329,"LOD":0.50},{"cM":1329,"LOD":0.32},{"cM":1329,"LOD":0.14},
{"cM":1332,"LOD":1.26},{"cM":1332,"LOD":1.08},{"cM":1332,"LOD":0.90},{"cM":1332,"LOD":0.72},{"cM":1332,"LOD":0.54},{"cM":1332,"LOD":0.36},{"cM":1332,"LOD":0.18},{"cM":1332,"LOD":0.02},
{"cM":1335,"LOD":1.02},{"cM":1335,"LOD":0.84},{"cM":1335,"LOD":0.66},{"cM":1335,"LOD":0.48},{"cM":1335,"LOD":0.30},{"cM":1335,"LOD":0.12},
{"cM":1338,"LOD":0.94},{"cM":1338,"LOD":0.76},{"cM":1338,"LOD":0.58},{"cM":1338,"LOD":0.40},{"cM":1338,"LOD":0.22},{"cM":1338,"LOD":0.06},
{"cM":1341,"LOD":1.50},{"cM":1341,"LOD":1.08},{"cM":1341,"LOD":0.88},{"cM":1341,"LOD":0.70},{"cM":1341,"LOD":0.52},{"cM":1341,"LOD":0.34},{"cM":1341,"LOD":0.16},
{"cM":1344,"LOD":1.00},{"cM":1344,"LOD":0.82},{"cM":1344,"LOD":0.64},{"cM":1344,"LOD":0.46},{"cM":1344,"LOD":0.28},{"cM":1344,"LOD":0.10},
{"cM":1347,"LOD":1.08},{"cM":1347,"LOD":0.90},{"cM":1347,"LOD":0.72},{"cM":1347,"LOD":0.54},{"cM":1347,"LOD":0.36},{"cM":1347,"LOD":0.18},{"cM":1347,"LOD":0.04},
{"cM":1350,"LOD":1.12},{"cM":1350,"LOD":0.96},{"cM":1350,"LOD":0.78},{"cM":1350,"LOD":0.60},{"cM":1350,"LOD":0.42},{"cM":1350,"LOD":0.24},{"cM":1350,"LOD":0.08},
{"cM":1353,"LOD":1.04},{"cM":1353,"LOD":0.86},{"cM":1353,"LOD":0.68},{"cM":1353,"LOD":0.50},{"cM":1353,"LOD":0.32},{"cM":1353,"LOD":0.14},
{"cM":1356,"LOD":0.92},{"cM":1356,"LOD":0.74},{"cM":1356,"LOD":0.56},{"cM":1356,"LOD":0.38},{"cM":1356,"LOD":0.20},{"cM":1356,"LOD":0.04},
{"cM":1359,"LOD":0.84},{"cM":1359,"LOD":0.66},{"cM":1359,"LOD":0.48},{"cM":1359,"LOD":0.30},{"cM":1359,"LOD":0.12},
{"cM":1362,"LOD":1.06},{"cM":1362,"LOD":0.78},{"cM":1362,"LOD":0.60},{"cM":1362,"LOD":0.42},{"cM":1362,"LOD":0.24},{"cM":1362,"LOD":0.08},
{"cM":1365,"LOD":0.96},{"cM":1365,"LOD":0.72},{"cM":1365,"LOD":0.54},{"cM":1365,"LOD":0.36},{"cM":1365,"LOD":0.18},
{"cM":1368,"LOD":0.88},{"cM":1368,"LOD":0.66},{"cM":1368,"LOD":0.48},{"cM":1368,"LOD":0.30},{"cM":1368,"LOD":0.12},
{"cM":1370,"LOD":1.60},
{"cM":1371,"LOD":0.76},{"cM":1371,"LOD":0.58},{"cM":1371,"LOD":0.40},{"cM":1371,"LOD":0.22},{"cM":1371,"LOD":0.06},
{"cM":1374,"LOD":0.64},{"cM":1374,"LOD":0.46},{"cM":1374,"LOD":0.28},{"cM":1374,"LOD":0.10},
{"cM":1377,"LOD":0.56},{"cM":1377,"LOD":0.38},{"cM":1377,"LOD":0.20},{"cM":1377,"LOD":0.04},
{"cM":1380,"LOD":0.50},{"cM":1380,"LOD":0.32},{"cM":1380,"LOD":0.16},
{"cM":1383,"LOD":0.78},{"cM":1383,"LOD":0.44},{"cM":1383,"LOD":0.26},{"cM":1383,"LOD":0.10},
{"cM":1386,"LOD":0.48},{"cM":1386,"LOD":0.30},{"cM":1386,"LOD":0.14},
{"cM":1389,"LOD":0.40},{"cM":1389,"LOD":0.24},{"cM":1389,"LOD":0.08},
{"cM":1392,"LOD":0.36},{"cM":1392,"LOD":0.20},{"cM":1392,"LOD":0.04},
{"cM":1395,"LOD":0.42},{"cM":1395,"LOD":0.26},{"cM":1395,"LOD":0.10},
{"cM":1398,"LOD":0.34},{"cM":1398,"LOD":0.18},{"cM":1398,"LOD":0.02},
{"cM":1402,"LOD":0.30},{"cM":1402,"LOD":0.14},
{"cM":1405,"LOD":0.52},{"cM":1405,"LOD":0.36},{"cM":1405,"LOD":0.20},{"cM":1405,"LOD":0.04},
{"cM":1408,"LOD":0.68},{"cM":1408,"LOD":0.50},{"cM":1408,"LOD":0.34},{"cM":1408,"LOD":0.18},
{"cM":1411,"LOD":0.60},{"cM":1411,"LOD":0.44},{"cM":1411,"LOD":0.28},{"cM":1411,"LOD":0.12},
{"cM":1414,"LOD":0.82},{"cM":1414,"LOD":0.64},{"cM":1414,"LOD":0.48},{"cM":1414,"LOD":0.32},{"cM":1414,"LOD":0.16},{"cM":1414,"LOD":0.02},
{"cM":1417,"LOD":0.72},{"cM":1417,"LOD":0.56},{"cM":1417,"LOD":0.40},{"cM":1417,"LOD":0.24},{"cM":1417,"LOD":0.08},
{"cM":1420,"LOD":0.58},{"cM":1420,"LOD":0.42},{"cM":1420,"LOD":0.26},{"cM":1420,"LOD":0.10},
{"cM":1423,"LOD":0.50},{"cM":1423,"LOD":0.34},{"cM":1423,"LOD":0.18},{"cM":1423,"LOD":0.04},
{"cM":1426,"LOD":0.62},{"cM":1426,"LOD":0.46},{"cM":1426,"LOD":0.30},{"cM":1426,"LOD":0.14},
{"cM":1429,"LOD":0.56},{"cM":1429,"LOD":0.40},{"cM":1429,"LOD":0.24},{"cM":1429,"LOD":0.08},
{"cM":1432,"LOD":0.70},{"cM":1432,"LOD":0.52},{"cM":1432,"LOD":0.36},{"cM":1432,"LOD":0.20},{"cM":1432,"LOD":0.04},
{"cM":1435,"LOD":0.84},{"cM":1435,"LOD":0.66},{"cM":1435,"LOD":0.48},{"cM":1435,"LOD":0.32},{"cM":1435,"LOD":0.16},
{"cM":1438,"LOD":0.60},{"cM":1438,"LOD":0.44},{"cM":1438,"LOD":0.28},{"cM":1438,"LOD":0.12},
{"cM":1441,"LOD":0.54},{"cM":1441,"LOD":0.38},{"cM":1441,"LOD":0.22},{"cM":1441,"LOD":0.06},
{"cM":1444,"LOD":0.65},{"cM":1444,"LOD":0.46},{"cM":1444,"LOD":0.30},{"cM":1444,"LOD":0.14},
{"cM":1447,"LOD":0.50},{"cM":1447,"LOD":0.34},{"cM":1447,"LOD":0.18},{"cM":1447,"LOD":0.06}
]},
"layer":[
{"data":{"name":"groups"},"transform":[{"filter":"datum.start > 0"}],
 "mark":{"type":"rule","color":"#cfcfcf","strokeWidth":1.6},
 "encoding":{"x":{"field":"start","type":"quantitative","scale":{"domain":[0,1449.7],"nice":false,"zero":false},
   "axis":{"values":[38,148,286,430,550,650,755,896,1030,1151,1256,1344,1424],
     "labelExpr":"datum.value==38?'LG-1':datum.value==148?'LG-2':datum.value==286?'LG-3':datum.value==430?'LG-4':datum.value==550?'LG-5':datum.value==650?'LG-6':datum.value==755?'LG-7':datum.value==896?'LG-8':datum.value==1030?'LG-9':datum.value==1151?'LG-10':datum.value==1256?'LG-11':datum.value==1344?'LG-12':'LG-13'",
     "grid":false,"ticks":false,"tickSize":0,"domain":false,"labelFontSize":31,"labelColor":"#111111","labelPadding":32,"labelFlush":false,"labelOverlap":false,
     "title":"Linkage Group","titleFontSize":32,"titleFontWeight":"normal","titleColor":"#111111","titleY":153,"titleBaseline":"alphabetic"}}}},
{"data":{"name":"markers"},
 "mark":{"type":"circle","size":245,"color":"#000000","opacity":1},
 "encoding":{"x":{"field":"cM","type":"quantitative"},
   "y":{"field":"LOD","type":"quantitative","scale":{"domain":[0,9],"nice":false,"zero":true},
   "axis":{"values":[0,1,2,3,4,5,6,7,8,9],"format":"d","grid":true,"gridColor":"#8c8c8c","gridWidth":1.6,"domainColor":"#7f7f7f","domainWidth":2,"ticks":false,"tickSize":0,"labelPadding":33,"labelFontSize":31,"labelOffset":7,"labelColor":"#111111",
     "title":"LOD Score","titleFontSize":32,"titleFontWeight":"normal","titleColor":"#111111","titleAngle":-90,"titleX":-102,"titleY":503,"titleBaseline":"alphabetic","titleAlign":"center"}}}},
{"data":{"name":"threshold"},"mark":{"type":"rule","color":"#000000","strokeWidth":5},
 "encoding":{"y":{"field":"LOD","type":"quantitative"}}},
{"data":{"name":"threshold"},"mark":{"type":"text","align":"left","baseline":"alphabetic","dx":4,"dy":-7,"fontSize":32,"fontStyle":"italic","color":"#111111"},
 "encoding":{"x":{"field":"cM","type":"quantitative"},"y":{"field":"LOD","type":"quantitative"},"text":{"field":"p"}}},
{"data":{"name":"threshold"},"mark":{"type":"text","align":"left","baseline":"alphabetic","dx":23,"dy":-7,"fontSize":32,"color":"#111111"},
 "encoding":{"x":{"field":"cM","type":"quantitative"},"y":{"field":"LOD","type":"quantitative"},"text":{"field":"rest"}}}
]
}
